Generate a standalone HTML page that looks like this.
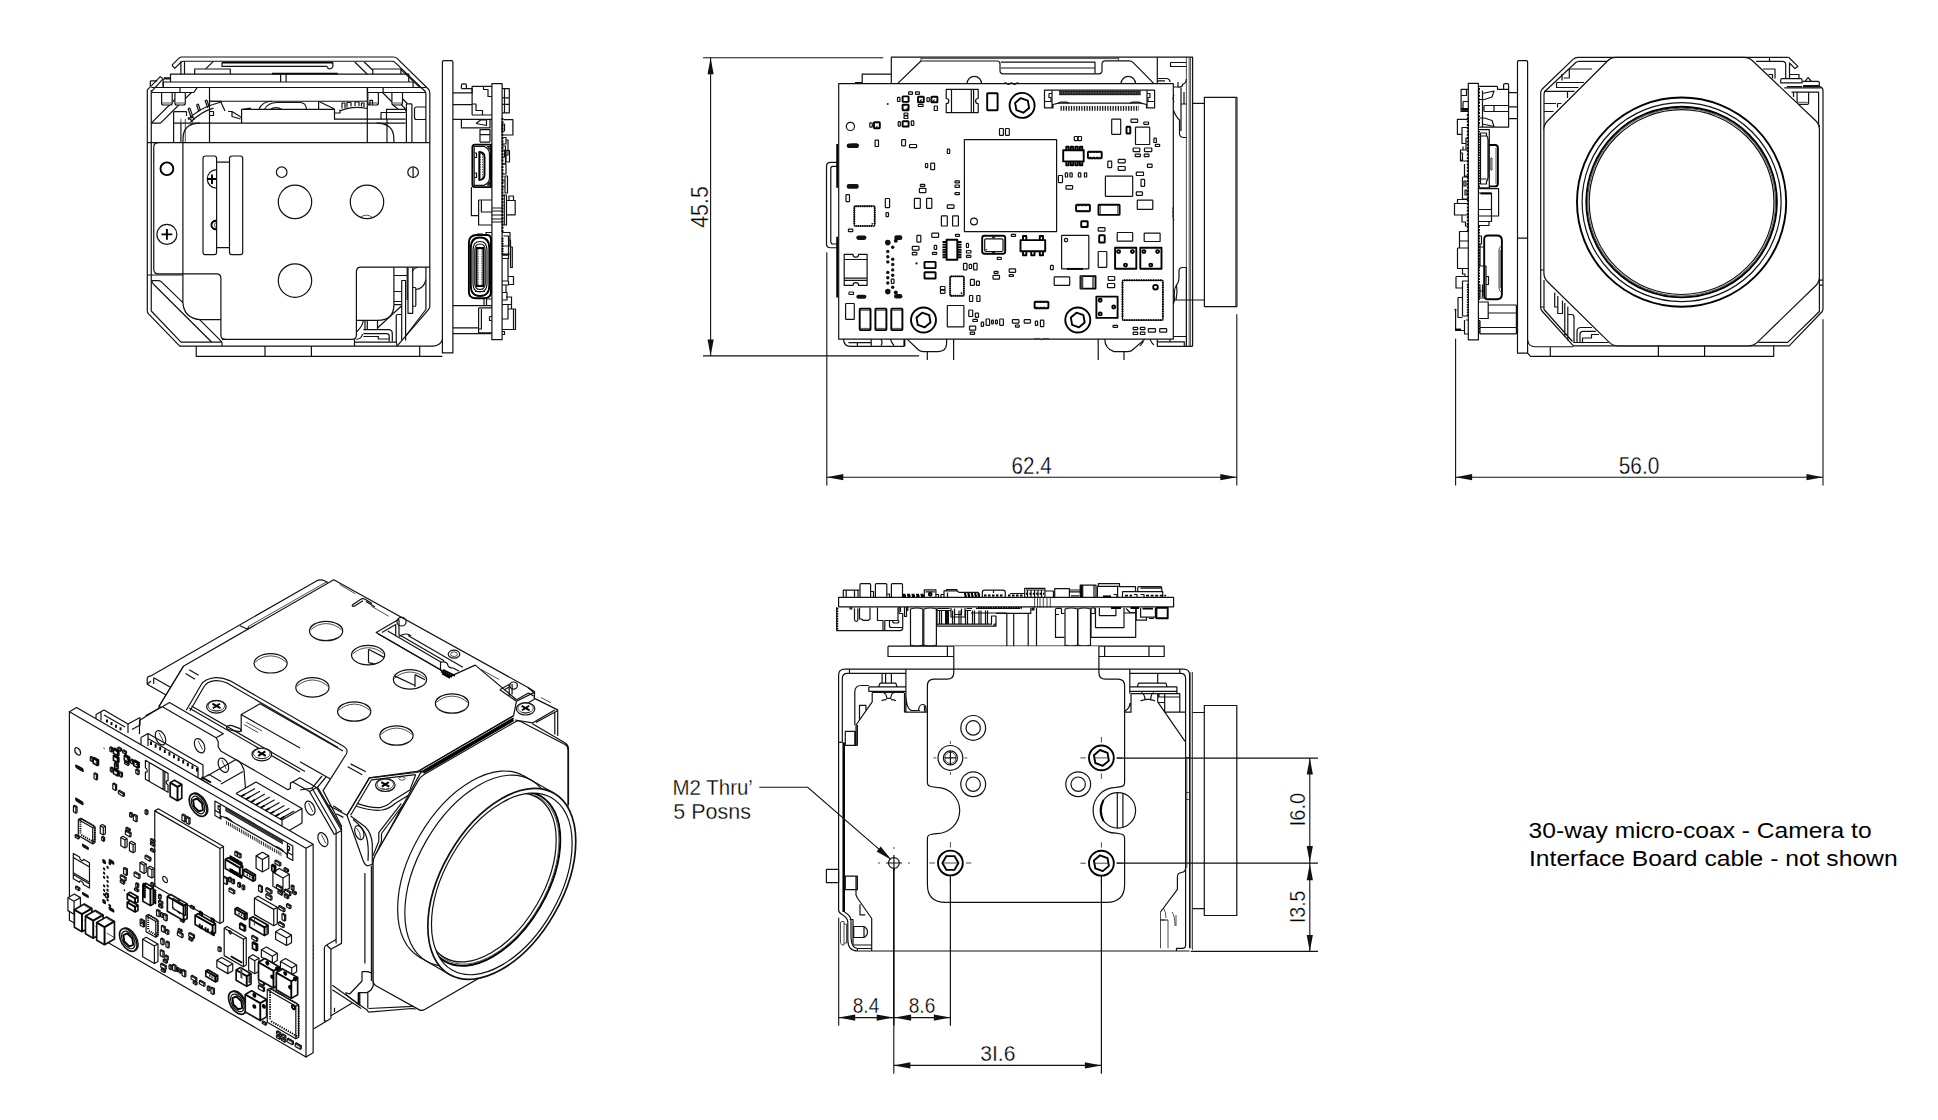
<!DOCTYPE html>
<html><head><meta charset="utf-8"><title>Drawing</title>
<style>
html,body{margin:0;padding:0;background:#fff;}
body{width:1938px;height:1120px;overflow:hidden;font-family:"Liberation Sans",sans-serif;}
svg{display:block;position:absolute;left:0;top:0}
.l,.t,.k,.w,.wt,.wk,.d{vector-effect:non-scaling-stroke}
.l{fill:none;stroke:#111;stroke-width:1.2;stroke-linejoin:round;stroke-linecap:butt}
.t{fill:none;stroke:#222;stroke-width:.8}
.k{fill:none;stroke:#000;stroke-width:1.9;stroke-linejoin:round}
.w{fill:#fff;stroke:#111;stroke-width:1.2;stroke-linejoin:round}
.wt{fill:#fff;stroke:#333;stroke-width:.7}
.wk{fill:#fff;stroke:#111;stroke-width:1.7;stroke-linejoin:round}
.f{fill:#111;stroke:none}
.d{fill:none;stroke:#111;stroke-width:1.1}
text{font-family:"Liberation Sans",sans-serif;fill:#000}
</style></head><body>
<svg width="1938" height="1120" viewBox="0 0 1938 1120">
<rect x="0" y="0" width="1938" height="1120" fill="#fff"/>
<!-- 10_v1.svg -->
<g id="v1">
<!-- top cover -->
<path class="l" d="M172 65.2 L179 58.2 Q180.4 57 182 57 L393.5 57 Q395.8 57 397.3 58.6 L428.3 89 Q429.8 90.6 429.8 93 L429.8 306 Q429.8 308.3 428.3 309.8 L397 346.1 L179.8 346.1 L148.5 313.8 Q147.3 312.5 147.3 310.5 L147.3 89.8"/>
<path class="l" d="M172 65.2 L174.7 68.4 L181 62.2 Q182 61.25 183.5 61.25 L392 61.25 Q393.9 61.25 395 62.4 L424.8 91 Q425.9 92.2 425.9 94 L425.9 142.7"/>
<!-- left hook -->
<path class="l" d="M147.3 89.8 L160.3 76.6 L163 78.9 L151.7 91.4"/>
<path class="l" d="M150.3 80.9 H157.3 M150.3 80.9 V86 M163.1 78.9 V87.5"/>
<path class="l" d="M151.25 90 V311 M151.25 87.5 H425.9"/>
<!-- top inside -->
<path class="l" d="M180.9 61.25 V74.2 M184.5 61.25 V74.2"/>
<path class="k" d="M222 62.6 H333"/>
<path class="l" d="M222 62.6 V66.4 H327 M329.8 68.8 A3.1 3.1 0 0 0 332.9 65.6 V62.6"/>
<path class="l" d="M327 66.4 A3 3 0 0 0 329.8 68.8"/>
<path class="l" d="M205.6 68.9 L213.4 61.4 M213.4 61.4"/>
<path class="l" d="M194.7 74.2 V69 H230.3 V74.2"/>
<path class="l" d="M354.8 62 L367.3 74.2 M364.2 62 L372.8 70.3"/>
<path class="l" d="M372.8 74.2 V69 H400.9 V74.2"/>
<path class="k" d="M272 73.6 H337.7"/>
<path class="l" d="M170.5 82 V74.2 H408.75 V82 M280.6 74.2 V82 M286.1 74.2 V82"/>
<path class="l" d="M163.4 87.5 V82 H413.1 V87.5"/>
<!-- block below -->
<path class="l" d="M209.5 87.5 V142.7 M367.3 87.5 V142.7 M209.5 101.25 H367.3"/>
<!-- standoffs -->
<!-- left diagonal brace -->
<path class="l" d="M151.25 123.1 L182 92.5 M151.25 123.1 H160.5 L191.5 92.5"/>
<path class="l" d="M382.5 92.5 L392 102 M402.5 98.75 L407.5 103.75 M393 105 L398 109 M401.5 105 Q405 107.5 406.3 111.5"/>
<path class="l" d="M151.25 92.5 H193.75 L197 87.8 M180 88 V92.5 M367.5 87.5 V92.5 H425.6 M383.1 87.8 V92.5"/>
<path class="w" d="M161.6 92.5 H172.2 V103 Q172.2 105 170.2 105 H163.6 Q161.6 105 161.6 103 Z M174.9 92.5 H185.3 V103 Q185.3 105 183.3 105 H176.9 Q174.9 105 174.9 103 Z"/>
<path class="t" d="M162.3 103 H171.6 M175.5 103 H184.7"/>
<path class="w" d="M367.8 92.5 H378.4 V103 Q378.4 105 376.4 105 H369.8 Q367.8 105 367.8 103 Z M391.9 92.5 H402.5 V103 Q402.5 105 400.5 105 H393.9 Q391.9 105 391.9 103 Z"/>
<path class="t" d="M368.4 103 H377.8 M392.5 103 H401.9"/>
<path class="l" d="M369.9 105 V100.3 H372.5 V105"/>
<path class="l" d="M400.6 69.4 L420.6 88.1"/>
<path class="l" d="M163.75 77.8 H170.3 M163.75 79 H170.3"/>
<!-- lens top line -->
<path class="l" d="M173.6 123.1 H405.6 M173.6 111.7 V142.7 M175.5 111.7 H186.5 V116 M173.6 111.7 H175.5"/>
<path class="t" d="M180.9 118.75 V142.7 M185.3 118.75 V142.7"/>
<path class="l" d="M183 142.7 V139 Q183 123.1 200 123.1 M393.9 142.7 V139 Q393.9 123.1 376.5 123.1"/>
<!-- middle clutter -->
<path class="l" d="M241.6 123.1 V109.4 H334.5 V119.2 H405.6 M241.6 109.4 L251 108 M334.5 109.4 H312 M318.6 101.25 L334.5 109"/>
<path class="l" d="M259 109.4 Q262 101.25 272 101.25 M264.5 109.4 Q268 102.5 277 102.5 H300 Q306 102.5 306.5 109.4 M318.6 101.25 V109.4"/>
<path class="l" d="M270 109.4 Q276 106 282 109.4"/>
<path class="l" d="M209.5 101.25 L220.5 101.25 L225 111 M228 111.5 H232 V116.5 L240.5 119 M232 111.5 L241.6 117.5"/>
<!-- ribbon/flex left -->
<path class="l" d="M188 119.5 Q200 108 213 104.5 M190.5 122 Q202 111.5 213.5 108.2 M213 104.5 L222 101.8 M209.5 111.5 H213.5 V115.5 H209.5"/>
<path class="l" d="M188 108.5 L191.5 118.5 M189.8 108 L193.2 117.6 M188 108.5 L189.8 108 M196.5 104.5 L198.8 111.5 M198.3 104 L200.4 110.5 M196.5 104.5 L198.3 104 M205 100.5 L207.8 108 M206.8 100 L209.2 106.8 M205 100.5 L206.8 100"/>
<path class="l" d="M187.8 117.5 L193 121.5 M190 115.5 L195 119.3"/>
<!-- right clutter -->
<path class="l" d="M334.5 113 H340 V109.4 M340 111 Q352 105.5 367.3 108.5 M342 108.5 V103 H345 V108 M347 107.5 V102.5 H351 V106.5 M355 106 V102 H359 V106 M361.5 106.5 V103 H364 V107"/>
<path class="l" d="M381 119.2 V112.5 H386.5 V109.4 H405.6 M386.5 112.5 V119.2 M386.5 112.5 H405.6"/>
<path class="l" d="M406.4 103.9 H411.9 M406.4 103.9 V142.7 M411.9 103.9 V142.7"/>
<path class="l" d="M425.9 107 H416.5 Q414.5 107 414.5 109 V117.5 Q414.5 119.5 416.5 119.5 H425.9"/>
<path class="l" d="M387 119.2 V142.7"/>
<!-- bracket plate top line -->
<path class="l" d="M147.3 142.7 H429.8"/>
<!-- plate outline -->
<path class="l" d="M158.5 142.7 Q153.75 142.7 153.75 147.5 V269 Q153.75 273.9 158.5 273.9 H216.5 Q220.9 273.9 220.9 278.3 V335 Q220.9 339.4 225.3 339.4 H352 Q356.4 339.4 356.4 335 V271.8 Q356.4 267.2 361 267.2 H429.8"/>
<path class="l" d="M182.9 142.7 V302.6 Q184 318 199.6 319.6 H220.9"/>
<path class="t" d="M180.9 123.1 V142.7"/>
<!-- circles -->
<circle class="k" cx="166.9" cy="168.75" r="6.4"/>
<circle class="l" cx="281.7" cy="172.2" r="5.3"/>
<circle class="l" cx="413.1" cy="172.2" r="5.3"/>
<path class="l" d="M413.1 167 V177.4"/>
<circle class="l" cx="295" cy="201.9" r="16.7"/>
<circle class="l" cx="367" cy="201.9" r="16.7"/>
<path class="t" d="M360.5 217.2 Q366.5 213 372.5 217.4"/>
<circle class="l" cx="295" cy="280.6" r="16.7"/>
<!-- slots -->
<path class="l" d="M203 158.5 Q203 156 205.5 156 H214.1 Q216.6 156 216.6 158.5 V252.2 Q216.6 254.7 214.1 254.7 H205.5 Q203 254.7 203 252.2 Z"/>
<path class="l" d="M229.5 158.5 Q229.5 156 232 156 H240.2 Q242.7 156 242.7 158.5 V252.2 Q242.7 254.7 240.2 254.7 H232 Q229.5 254.7 229.5 252.2 Z"/>
<path class="l" d="M216.6 162.2 H229.5 M216.6 247.7 H229.5"/>
<path class="l" d="M216.6 169.6 A9.3 9.3 0 1 0 216.6 188.2"/>
<path class="k" d="M207.6 179 H216 M212 174.5 V184"/>
<path class="k" d="M216.6 220.8 A4.3 4.3 0 1 0 216.6 229.2"/>
<path class="t" d="M216.6 222 A3.2 3.2 0 0 0 216.6 228"/>
<!-- plus screw -->
<circle class="l" cx="166.9" cy="234.4" r="10"/>
<path class="k" d="M161.5 234.4 H172.3 M166.9 229 V239.8"/>
<!-- bottom-left chamfer zone -->
<path class="l" d="M147.3 275 H182.7 M151.25 311 L181 342.2 H222 M151.4 280.6 H158 Q160 280.6 161.2 281.6 L182.9 302.6 M199.6 319.6 L221.6 341.6 M151.4 280.6 Q152.5 283.5 155 285.8 L211.8 342.2"/>
<path class="l" d="M222 342.2 V346.1 M222 339.4 L225.3 339.4"/>
<!-- base plate -->
<path class="l" d="M196.25 346.1 V356.4 H442.4 M265 346.1 V356.4 M311.4 346.1 V356.4 M419.7 346.1 V356.4 M397 346.1 H433.5 Q440 345.5 442.4 340"/>
<!-- right bottom clutter -->
<path class="l" d="M393.9 267.2 V304.7 M407.2 267.2 V300 M393.9 275.5 H407.2 M393.9 291.5 H401.7 M393.9 301.5 H401.7 M393.9 304.7 H401.7"/>
<path class="l" d="M401.7 340.6 V280.5 H405.6 V340.6"/>
<path class="l" d="M408 267.2 V313.3 H412.7 V267.2"/>
<path class="l" d="M412.7 287.5 H415 Q415.8 287.5 415.8 288.5 V305.3 Q415.8 306.25 415 306.25 H412.7"/>
<path class="l" d="M425.9 279.7 Q424 289 415.8 289.5 M412.7 271 Q414 267.5 418 267.5"/>
<path class="l" d="M425.9 267.2 V309.5 L405.6 336"/>
<path class="l" d="M393.9 304.7 Q393.9 320.3 377.5 320.3 H356.4"/>
<path class="l" d="M377.5 328 L401.7 305.8"/>
<path class="l" d="M365 320.3 V329.7 M367.3 320.3 V329.7 M377.5 320.3 V329.7"/>
<path class="l" d="M363.4 329.7 H388.4 Q392.3 329.7 392.3 333.6 V341.4 M363.4 333.6 H386.5 Q389.2 333.6 389.2 336.3 V341.4 M378.3 335.9 V339 H389.2 M363.4 336.5 H378"/>
<path class="l" d="M356.4 332 Q363 326 363.4 320.3 M354.5 342.2 H396.5 M354.5 339 V346.1 M396.25 315.6 V341.5 L397 346.1 M396.25 315.6 Q396.25 314.5 397.5 314.5 H401.7"/>
<path class="l" d="M356.4 339.4 Q361.5 339 362.5 334"/>
</g>

<!-- 11_v1r.svg -->
<g id="v1r">
<!-- vertical plate -->
<path class="l" d="M442.4 352.9 V62 Q442.4 60.7 443.7 60.7 H451.6 Q452.9 60.7 452.9 62 V352.9 Z"/>
<!-- PCB -->
<path class="l" d="M491.9 83.6 H502.1 V339.7 H491.9 Z"/>
<!-- top standoff + connector -->
<path class="l" d="M452.9 92.9 H472.1 M452.9 104.6 H472.1 M452.9 119.3 H491.9 M461.4 88.6 V85.2 Q461.4 83.9 462.7 83.9 H465.1 Q466.4 83.9 466.4 85.2 V88.6 M461.4 88.6 H472.1 V92.9"/>
<path class="l" d="M472.1 115 V86.4 H491.9 M472.1 115 H491.9"/>
<path class="l" d="M483.5 86.4 V89.5 H488 V96.5 H491.9 M472.1 104 H476 V110.5 H482.5 V115"/>
<path class="l" d="M461.4 119.3 V127.9 H490 V119.3 M476 123.5 L481 119.8 H486.5 V125.5 L476 123.5"/>
<path class="l" d="M480 142.1 V129.6 H490 V142.1 M480 134.6 H490 M480 142.1 H490"/>
<!-- hdmi -->
<path class="k" d="M475 144.6 H491 V187.1 H475 Q472.4 187.1 472.4 184.5 V147.2 Q472.4 144.6 475 144.6 Z"/>
<path class="l" d="M474.2 147 Q474.2 146.3 475 146.3 H484 Q489.5 149 489.5 154 V178 Q489.5 183 484 185.4 H475 Q474.2 185.4 474.2 184.7 Z"/>
<path class="l" d="M487.5 146.5 L490 146.5 L490 150 Z M487.5 185.2 L490 185.2 L490 181.8 Z"/>
<path class="l" d="M474.2 153 H476.5 V157.5 H474.2 M474.2 173 H476.5 V177.5 H474.2"/>
<path class="k" d="M479.3 152 Q484.5 152.5 484.5 157 V175 Q484.5 179.5 479.3 180 Z"/>
<path class="t" d="M480.2 154 V178 M482.5 154 V178" stroke-dasharray="1.3 1.2"/>
<!-- below hdmi -->
<path class="l" d="M471.4 187.1 V215.7 H478.6 M478.6 200 V225 H491.9 M478.6 200 H491.9 M481.4 200 V212 H491.9"/>
<path class="l" d="M491.9 208 H502.1 M491.9 211 H502.1 M491.9 215 H502.1 M491.9 219 H502.1 M491.9 222 H502.1"/>
<!-- usb-c like -->
<path class="k" d="M477 235 H487 Q491 235 491 240 V292 Q491 298.3 484 298.3 H476 Q468.9 298.3 468.9 292 V243 Q468.9 235 477 235 Z"/>
<path class="k" d="M470.8 248 Q470.8 237.5 480 237.5 Q489.3 237.5 489.3 248 V285.5 Q489.3 296 480 296 Q470.8 296 470.8 285.5 Z"/>
<path class="l" d="M473 250 Q473 241.5 480 241.5 Q487 241.5 487 250 V283.5 Q487 292 480 292 Q473 292 473 283.5 Z"/>
<path class="l" d="M474.8 250.5 Q474.8 244 480 244 Q485.2 244 485.2 250.5 V283 Q485.2 289.5 480 289.5 Q474.8 289.5 474.8 283 Z"/>
<path class="k" d="M476.6 248 H483.4 V286 H476.6 Z"/>
<path class="t" d="M478.3 249 V285 M481.7 249 V285" stroke-dasharray="1.2 1.1"/>
<path class="l" d="M475 291.5 H485 M477 234.2 H483"/>
<path class="l" d="M486 235 V232.5 H491.9 M484 298.3 V305 M486.5 298.3 V305 M486.5 299 H491.9"/>
<!-- lower standoff + connector -->
<path class="l" d="M452.9 305.7 H491.9 M452.9 327.9 H478.6 M452.9 333.6 H491 M478.6 307.9 V332.9 H491.9 M478.6 307.9 H491.9 M481.4 309 V329 H478.6 M489.5 316.5 H491.9 M489.5 316.5 V320.5 H491.9"/>
<!-- right side of PCB components -->
<path class="l" d="M502.1 88.6 H509.3 V112.9 H502.1 M502.1 97.9 H509.3 M502.1 104.3 H509.3 M504.5 88.6 V112.9"/>
<path class="l" d="M503.6 119.6 H512.9 V135 H503.6 M502.1 124 V131 H504.5 V124 Z"/>
<path class="l" d="M502.1 137.5 H506 V144 H502.1 M506 140 H508 V155 H506 M502.1 146 H505.5 V164 H502.1 M502.1 150 H504.5 V157 H502.1"/>
<path class="l" d="M506 150.5 H509.5 V162 H506 Z M502.1 164 H506 V174 H502.1 M502.1 181 H505 V187 H502.1 M505 176 H507.5 V193 H505 Z"/>
<path class="l" d="M502.1 195 H506.5 V225 H502.1 M504.3 195 V225 M506.5 200.5 H515.2 V214.8 H506.5 M509 200.5 V196 H513.5 V200.5"/>
<path class="k" d="M502.5 118 V232" stroke-dasharray="2 1.2"/>
<path class="l" d="M502.1 232.5 H510 V246 H502.1 M503.5 236 H508.5 V255 H503.5 M508.5 240 H510.5 V254 H502.1 M510.5 247 H512.3 V267.5 H510.5 Z"/>
<path class="k" d="M502.6 238 V256" stroke-dasharray="1.5 1"/>
<path class="l" d="M502.1 255 H508.5 V258.5 H502.1 M502.1 258.5 H508 V281 H502.1 M502.1 281 H508.5 V285 H502.1 M508.5 276.5 H513.5 V284.5 H508.5 M506 285 V292.5 M502.1 292.5 H507 V300 H502.1"/>
<path class="l" d="M506 297 H511.5 V304.5 H506 M502.1 304.5 H508 V319 H502.1 M508 309 H515.5 V329.5 H502.1 M511.5 304.5 V309 M513.5 309 V329.5"/>
<path class="l" d="M502.1 331.5 H504.5 V334.5 H502.1"/>
</g>

<!-- 20_v2.svg -->
<g id="v2">
<path class="l" d="M891.3 83.6 V57.2 H1192.6 V346.3"/>
<path class="l" d="M862.2 83.6 V74.2 H891.3 M855 82.6 H862.2"/>
<path class="l" d="M897.5 83.6 L921 61 H997 Q1000 61 1000 64 V70.5 Q1000 73.8 1003.5 73.8 H1098.5 Q1102 73.8 1102 70.5 V64 Q1102 60.8 1105.4 60.8 H1129 Q1131.5 60.8 1133 62.3 L1153.9 83.6"/>
<path class="t" d="M921 58.6 H1118.6 M1118.6 57.2 V60.8 M921 61 V57.2"/>
<path class="l" d="M1000.8 68 H1095 V62.2 H1000.8 M1095 62.2 V73.8"/>
<path class="l" d="M967.1 83.6 A7.2 7.2 0 0 1 981.5 83.6 M1121.1 83.6 A7.2 7.2 0 0 1 1135.5 83.6"/>
<path class="l" d="M1004 83.6 q1.5 -1.5 3 0 q1.5 1.5 3 0 q1.5 -1.5 3 0 q1.5 1.5 3 0 q1.5 -1.5 3 0"/>
<path class="l" d="M1157.3 57.2 V83.6 M1157.3 78.5 H1166 Q1170 78.5 1170 82 M1157.3 80.8 H1165 M1170.5 62.5 H1186.4 M1170.5 62.5 V66.5 H1186.4"/>
<path class="t" d="M1186.4 57.2 V346.3 M1189.2 57.2 V346.3 M1190.6 57.2 V346.3"/>
<path class="l" d="M1173.3 87 H1178 V82 M1178 87 Q1182 88 1183 84 Q1186 83.5 1186.4 79 M1181 88 V104 M1184 92 V104 M1181 104 H1186.4"/>
<path class="l" d="M1173.3 110 Q1176 117 1179.5 120 V134 Q1180 137.5 1184 137.5 H1186.4 M1181 104 V131"/>
<path class="l" d="M1204.4 97.3 H1236.9 V306.6 H1204.4 Z M1192.6 103.3 H1204.4 M1192.6 300 H1204.4"/>
<path class="t" d="M1235.7 97.3 V306.6"/>
<path class="l" d="M1186.4 267.5 H1182.5 Q1179 267.5 1179 271 V278 Q1179 282.5 1176.5 285 Q1173.5 289 1174.5 300 L1173.3 304 M1174 300 H1192.6 M1176.5 285 Q1177.8 292 1176 300 M1186.4 267.5 V346.3"/>
<path class="t" d="M1173.3 94 q1.5 1.5 0 3 q-1.5 1.5 0 3 q1.5 1.5 0 3 M1173.3 207 q-1.5 1.5 0 3 q-1.5 2 0 4 q-1.5 2 0 4 q1.2 1.5 0 3"/>
<path class="l" d="M843.5 339.1 Q844 346.3 850 346.3 H904.4 M848.4 342.6 H871.2 M857.4 342.6 V346.3 M871.2 339.1 V346.3 M881 339.1 Q883 343 881 345.5 M890.5 339.1 Q891.5 343 894 345.5"/>
<path class="k" d="M904.4 339.1 V346.3"/>
<path class="l" d="M907.2 339.1 L918.5 350 Q920.5 351.6 923 351.6 H938 Q946.6 351.6 946.6 343 V339.1 M953.6 339.1 V360 M927.3 351.6 V360"/>
<path class="l" d="M1098.2 339.1 V360 M1104.7 339.1 Q1105 349 1114 351.6 H1128 Q1131 351.6 1133 349.5 L1144.9 339.1 M1124 351.6 V360 M1140 346 L1143.5 341.5"/>
<path class="l" d="M1150 339.1 Q1151.5 343.5 1154 345 M1157.3 341.9 H1184.3 V346.3 H1157.3 Z M1157.3 339.1 V346.3 M1170 341.9 V339.1 M1173.3 336.5 H1186.4 M1157.3 346.3 H1192.6"/>
<path class="t" d="M1034 339.1 q1.5 -1.5 3 0 q1.5 -1.5 3 0 q1.5 1.5 3 0 q1.5 -1.5 3 0 q1.5 -1.5 3 0"/>
<path class="l" d="M837.7 162.4 H830.5 Q826.5 162.4 826.5 166.4 V243.7 Q826.5 247.75 830.5 247.75 H837.7 M837.7 166.3 H833 Q830.8 166.3 830.8 168.5 V241.8 Q830.8 244 833 244 H837.7"/>
<path class="k" d="M837.2 144.1 V187.7 M837.2 236.7 V297.6"/>
<path class="l" d="M838.7 83.6 H1173.3 V339.1 H838.7 Z"/>
<rect class="l" x="964.4" y="139.7" width="92.2" height="91.9" rx="0"/>
<circle class="l" cx="974.0" cy="221.5" r="3.4"/>
<circle class="k" cx="1022.1" cy="105.4" r="12.5"/>
<path class="k" d="M1029.1 107.9 L1023.4 112.7 L1016.4 110.2 L1015.1 102.9 L1020.8 98.1 L1027.8 100.6 Z"/>
<circle class="k" cx="923.5" cy="320.0" r="12.5"/>
<path class="k" d="M930.5 322.5 L924.8 327.3 L917.8 324.8 L916.5 317.5 L922.2 312.7 L929.2 315.2 Z"/>
<circle class="k" cx="1077.8" cy="320.0" r="12.5"/>
<path class="k" d="M1084.7 322.5 L1079.0 327.3 L1072.1 324.8 L1070.8 317.5 L1076.5 312.7 L1083.4 315.2 Z"/>
<rect class="l" x="908.6" y="91.9" width="3.9" height="2.4" rx="0.6"/>
<rect class="l" x="915.5" y="91.9" width="3.9" height="2.4" rx="0.6"/>
<rect class="l" x="897.5" y="97.3" width="2.4" height="4.2" rx="0.6"/>
<rect class="l" x="927.0" y="97.5" width="2.3" height="4.1" rx="0.6"/>
<rect class="l" x="918.3" y="104.4" width="4.8" height="2.1" rx="0.6"/>
<rect class="l" x="934.2" y="106.0" width="3.2" height="4.5" rx="0.6"/>
<rect class="l" x="898.2" y="121.6" width="2.1" height="4.5" rx="0.6"/>
<rect class="l" x="911.3" y="120.9" width="2.5" height="4.5" rx="0.6"/>
<rect class="l" x="869.8" y="122.9" width="2.5" height="4.2" rx="0.6"/>
<rect class="l" x="904.0" y="113.0" width="3.9" height="2.4" rx="0.6"/>
<rect class="l" x="904.0" y="116.0" width="3.9" height="2.5" rx="0.6"/>
<rect class="k" x="902.6" y="96.4" width="6.0" height="5.5" rx="0.6"/>
<rect class="k" x="918.0" y="96.8" width="5.8" height="5.5" rx="0.6"/>
<rect class="k" x="931.4" y="96.8" width="6.0" height="5.5" rx="0.6"/>
<rect class="k" x="902.6" y="104.7" width="6.0" height="5.5" rx="0.6"/>
<rect class="k" x="902.6" y="121.3" width="6.0" height="5.2" rx="0.6"/>
<rect class="k" x="874.0" y="122.2" width="5.8" height="6.0" rx="0.6"/>
<path class="f" d="M919 101.5 h2.5 v-3 z M932 101.5 h2.5 v-2.5 z M905.5 109.5 h2.5 v-2.5 z M875 127.5 h2.5 v-2 z"/>
<circle class="f" cx="887.8" cy="104.0" r="0.9"/>
<circle class="l" cx="850.4" cy="126.4" r="4.1"/>
<path class="l" d="M946.2 89.4 H978.2 V98.5 A2.6 2.6 0 0 0 978.2 103.7 V112.6 H946.2 V103.7 A2.6 2.6 0 0 0 946.2 98.5 Z M951.5 89.4 V112.6 M971.3 89.4 V112.6 M973.6 89.4 V112.6"/>
<rect class="k" x="987.2" y="93.2" width="10.4" height="17.0" rx="0.6"/>
<rect class="f" x="846.7" y="143.4" width="12.1" height="4.6" rx="2.2"/>
<rect class="f" x="846.7" y="184" width="12.1" height="4.8" rx="2.2"/>
<rect class="f" x="856.3" y="235.6" width="10.1" height="4.3" rx="2.2"/>
<rect class="f" x="856.3" y="294.8" width="10.1" height="3.9" rx="2.2"/>
<rect class="f" x="850" y="143.4" width="8.8" height="4.6" rx="2.2"/>
<rect class="l" x="875.1" y="140.2" width="3.4" height="6.3" rx="0.6"/>
<rect class="l" x="901.7" y="139.6" width="3.8" height="6.3" rx="0.6"/>
<rect class="l" x="909.5" y="144.5" width="7.1" height="3.1" rx="0.6"/>
<rect class="l" x="947.3" y="149.2" width="2.4" height="4.3" rx="0.6"/>
<rect class="l" x="999.5" y="128.5" width="3.9" height="6.9" rx="0.6"/>
<rect class="l" x="1005.5" y="128.5" width="3.8" height="6.9" rx="0.6"/>
<rect class="l" x="925.5" y="163.5" width="2.2" height="4.1" rx="0.6"/>
<rect class="l" x="930.7" y="163.2" width="3.9" height="6.5" rx="0.6"/>
<rect class="l" x="920.3" y="184.3" width="4.5" height="2.0" rx="0.6"/>
<rect class="l" x="919.4" y="188.4" width="6.5" height="4.2" rx="0.6"/>
<rect class="l" x="955.0" y="180.8" width="4.5" height="2.1" rx="0.6"/>
<rect class="l" x="955.0" y="185.0" width="4.5" height="2.3" rx="0.6"/>
<rect class="l" x="955.0" y="192.6" width="4.5" height="2.0" rx="0.6"/>
<rect class="l" x="846.0" y="194.6" width="3.5" height="7.0" rx="0.6"/>
<rect class="l" x="885.3" y="198.5" width="4.3" height="9.1" rx="0.6"/>
<rect class="l" x="886.0" y="212.7" width="2.5" height="3.9" rx="0.6"/>
<rect class="l" x="914.4" y="198.4" width="5.9" height="9.9" rx="0.6"/>
<rect class="l" x="926.6" y="198.4" width="5.2" height="9.9" rx="0.6"/>
<rect class="l" x="947.3" y="204.8" width="6.7" height="3.5" rx="0.6"/>
<rect class="l" x="941.4" y="215.9" width="5.9" height="10.1" rx="0.6"/>
<rect class="l" x="952.6" y="215.9" width="5.8" height="10.1" rx="0.6"/>
<rect class="l" x="848.4" y="229.1" width="4.4" height="2.5" rx="0.6"/>
<rect class="l" x="849.0" y="292.0" width="4.5" height="2.5" rx="0.6"/>
<rect class="l" x="916.9" y="235.3" width="3.9" height="6.9" rx="0.6"/>
<rect class="l" x="931.8" y="233.2" width="6.8" height="4.2" rx="0.6"/>
<rect class="l" x="955.4" y="234.3" width="4.1" height="2.1" rx="0.6"/>
<rect class="l" x="912.3" y="246.4" width="6.7" height="3.7" rx="0.6"/>
<rect class="l" x="912.3" y="252.3" width="4.6" height="2.6" rx="0.6"/>
<rect class="l" x="934.2" y="245.3" width="2.5" height="4.1" rx="0.6"/>
<rect class="l" x="932.4" y="252.3" width="4.3" height="2.1" rx="0.6"/>
<rect class="l" x="966.4" y="243.3" width="2.1" height="4.2" rx="0.6"/>
<rect class="l" x="966.4" y="250.5" width="4.5" height="2.5" rx="0.6"/>
<rect class="l" x="966.4" y="255.4" width="4.5" height="2.0" rx="0.6"/>
<rect class="l" x="1011.3" y="234.3" width="4.3" height="2.1" rx="0.6"/>
<rect class="l" x="997.2" y="257.4" width="4.1" height="2.1" rx="0.6"/>
<rect class="l" x="963.5" y="263.4" width="3.5" height="6.5" rx="0.6"/>
<rect class="l" x="969.2" y="264.4" width="2.4" height="4.1" rx="0.6"/>
<rect class="l" x="973.6" y="263.4" width="3.5" height="6.5" rx="0.6"/>
<rect class="l" x="994.1" y="271.3" width="4.0" height="2.1" rx="0.6"/>
<rect class="l" x="993.0" y="275.4" width="6.5" height="3.8" rx="0.6"/>
<rect class="l" x="1009.2" y="268.8" width="6.4" height="3.6" rx="0.6"/>
<rect class="l" x="1009.2" y="274.7" width="4.2" height="1.8" rx="0.6"/>
<rect class="l" x="940.4" y="286.5" width="4.6" height="3.2" rx="0.6"/>
<rect class="l" x="940.4" y="290.2" width="4.6" height="3.2" rx="0.6"/>
<rect class="l" x="970.4" y="279.3" width="3.9" height="6.1" rx="0.6"/>
<rect class="l" x="976.4" y="281.2" width="3.0" height="4.2" rx="0.6"/>
<rect class="l" x="969.5" y="295.5" width="3.2" height="6.0" rx="0.6"/>
<rect class="l" x="976.8" y="295.5" width="3.1" height="6.0" rx="0.6"/>
<rect class="l" x="845.6" y="303.5" width="8.7" height="15.8" rx="0.6"/>
<rect class="l" x="968.8" y="310.0" width="3.9" height="6.5" rx="0.6"/>
<rect class="l" x="975.3" y="313.2" width="3.2" height="4.2" rx="0.6"/>
<rect class="l" x="972.9" y="319.3" width="4.5" height="2.2" rx="0.6"/>
<rect class="l" x="969.5" y="326.2" width="6.2" height="3.9" rx="0.6"/>
<rect class="l" x="970.2" y="332.2" width="4.4" height="2.1" rx="0.6"/>
<rect class="l" x="981.2" y="322.1" width="2.4" height="4.3" rx="0.6"/>
<rect class="l" x="986.1" y="319.0" width="3.5" height="6.3" rx="0.6"/>
<rect class="l" x="991.6" y="320.1" width="1.8" height="3.8" rx="0.6"/>
<rect class="l" x="995.5" y="320.1" width="1.9" height="3.8" rx="0.6"/>
<rect class="l" x="999.7" y="319.0" width="3.7" height="6.3" rx="0.6"/>
<rect class="l" x="1012.4" y="319.7" width="6.5" height="3.5" rx="0.6"/>
<rect class="l" x="1015.4" y="325.0" width="3.9" height="2.1" rx="0.6"/>
<rect class="l" x="1024.2" y="319.7" width="6.3" height="3.5" rx="0.6"/>
<rect class="l" x="947.3" y="305.5" width="16.6" height="21.4" rx="0.6"/>
<rect class="l" x="1035.3" y="321.1" width="2.3" height="4.2" rx="0.6"/>
<rect class="l" x="1040.4" y="320.1" width="3.4" height="6.5" rx="0.6"/>
<rect class="l" x="854.3" y="206.2" width="20.4" height="19.8" rx="0"/>
<path class="k" d="M855.5 206.2 H873.5 M855.5 226 H873.5 M874.7 207.5 V225 M854.3 207.5 V225" stroke-dasharray="1.2 1"/>
<circle class="f" cx="872.3" cy="223.8" r="0.9"/>
<path class="l" d="M844.2 254.4 H853 A2.8 2.8 0 0 0 858.6 254.4 H867.1 V285.4 H858.6 A2.8 2.8 0 0 0 853 285.4 H844.2 Z M844.2 259.5 H867.1 M844.2 278.2 H867.1 M844.2 280.3 H867.1"/>
<circle class="f" cx="892.7" cy="247.3" r="1.7"/>
<circle class="f" cx="887.8" cy="251.5" r="1.7"/>
<circle class="f" cx="887.8" cy="256.7" r="1.7"/>
<circle class="f" cx="892.7" cy="259.2" r="1.7"/>
<circle class="f" cx="887.8" cy="261.9" r="1.7"/>
<circle class="f" cx="892.7" cy="264.5" r="1.7"/>
<circle class="f" cx="892.7" cy="269.9" r="1.7"/>
<circle class="f" cx="887.8" cy="272.4" r="1.7"/>
<circle class="f" cx="892.7" cy="275.2" r="1.7"/>
<circle class="f" cx="887.8" cy="277.8" r="1.7"/>
<circle class="f" cx="887.8" cy="283.0" r="1.7"/>
<circle class="f" cx="892.7" cy="287.2" r="1.7"/>
<circle class="f" cx="887.8" cy="242.6" r="2.8"/>
<circle class="f" cx="887.8" cy="291.6" r="2.8"/>
<rect class="f" x="894.2" y="235.3" width="8.2" height="4.8" rx="2.4"/>
<circle class="f" cx="895.8" cy="240.8" r="2"/>
<rect class="f" x="894" y="294" width="8.4" height="4.6" rx="2.3"/>
<circle class="f" cx="895.8" cy="292.6" r="2"/>
<rect class="l" x="891.3" y="279.2" width="2.7" height="4.1" rx="0.6"/>
<rect class="k" x="946.6" y="239.7" width="10.7" height="20.1" rx="0"/>
<path class="k" d="M942.5 242.0 H946.6 M957.3 242.0 H961.5"/>
<path class="k" d="M942.5 244.6 H946.6 M957.3 244.6 H961.5"/>
<path class="k" d="M942.5 247.1 H946.6 M957.3 247.1 H961.5"/>
<path class="k" d="M942.5 249.7 H946.6 M957.3 249.7 H961.5"/>
<path class="k" d="M942.5 252.2 H946.6 M957.3 252.2 H961.5"/>
<path class="k" d="M942.5 254.8 H946.6 M957.3 254.8 H961.5"/>
<path class="k" d="M942.5 257.3 H946.6 M957.3 257.3 H961.5"/>
<rect class="k" x="982.2" y="235.7" width="23.0" height="18.0" rx="2.2"/>
<rect class="l" x="984.7" y="238.8" width="18.3" height="12.7" rx="1.2"/>
<path class="l" d="M992 236.5 l1.5 1.3 l1.5 -1.3 M992 253 l1.5 -1.3 l1.5 1.3"/>
<circle class="f" cx="986.3" cy="249.8" r="0.8"/>
<circle class="f" cx="916.5" cy="263.4" r="1.1"/>
<rect class="k" x="924.5" y="261.9" width="11.1" height="6.2" rx="0.6"/>
<rect class="k" x="924.5" y="272.2" width="11.1" height="6.3" rx="0.6"/>
<rect class="l" x="950.1" y="276.4" width="13.8" height="19.4" rx="0"/>
<path class="k" d="M951 276.4 H963 M951 295.8 H963 M950.1 277.5 V295 M963.9 277.5 V295" stroke-dasharray="1.1 1"/>
<circle class="f" cx="961.5" cy="293.2" r="0.9"/>
<rect class="k" x="859.7" y="308.6" width="10.8" height="21.5" rx="0.8"/>
<path class="t" d="M859.7 310.3 H870.5 M859.7 328.4 H870.5"/>
<rect class="k" x="875.4" y="308.6" width="11.0" height="21.5" rx="0.8"/>
<path class="t" d="M875.4 310.3 H886.4 M875.4 328.4 H886.4"/>
<rect class="k" x="891.3" y="308.6" width="11.1" height="21.5" rx="0.8"/>
<path class="t" d="M891.3 310.3 H902.4 M891.3 328.4 H902.4"/>
<path class="l" d="M1044.5 90.1 H1154.6 V107.9 H1146.5 V104.5 L1141 103.2 H1058.5 L1053 104.5 V107.9 H1044.5 Z M1044.5 101.5 H1052 M1147 101.5 H1154.6 M1052 90.8 V107.9 M1147 90.8 V107.9"/>
<path class="l" d="M1052 93.5 H1049 V97.5 H1051 V101.5 M1147 93.5 H1150 V97.5 H1148 V101.5 M1058 103.8 Q1059 102.2 1061 102.2 H1066 Q1068 102.2 1069 103.5 M1130 103.5 Q1131 102.2 1133 102.2 H1138.5 Q1140.5 102.2 1141.5 103.8"/>
<rect x="1059" y="90.6" width="81.7" height="4.6" fill="#222"/>
<path d="M1059 92.9 H1140.7" stroke="#999" stroke-width="0.8" stroke-dasharray="1.4 1.2" fill="none"/>
<path d="M1060.5 108.4 H1139" stroke="#111" stroke-width="4.6" stroke-dasharray="1.25 1.35" fill="none"/>
<rect class="l" x="1111.7" y="119.2" width="9.0" height="15.2" rx="0.6"/>
<rect class="l" x="1131.0" y="119.2" width="6.7" height="3.2" rx="0.6"/>
<rect class="l" x="1143.8" y="122.0" width="4.8" height="2.3" rx="0.6"/>
<rect class="l" x="1135.5" y="127.2" width="14.2" height="17.3" rx="0.6"/>
<rect class="l" x="1153.9" y="138.2" width="2.5" height="4.3" rx="0.6"/>
<rect class="l" x="1155.3" y="144.4" width="4.4" height="2.1" rx="0.6"/>
<rect class="l" x="1133.1" y="148.0" width="6.7" height="3.7" rx="0.6"/>
<rect class="l" x="1144.5" y="148.0" width="7.3" height="3.7" rx="0.6"/>
<rect class="l" x="1135.2" y="154.2" width="5.2" height="2.4" rx="0.6"/>
<rect class="l" x="1144.2" y="154.2" width="4.8" height="2.4" rx="0.6"/>
<rect class="l" x="1147.4" y="164.2" width="4.7" height="3.2" rx="0.6"/>
<rect class="l" x="1074.3" y="136.5" width="3.3" height="4.2" rx="0.6"/>
<rect class="l" x="1078.2" y="136.5" width="3.3" height="4.2" rx="0.6"/>
<rect class="l" x="1107.8" y="161.1" width="3.9" height="6.5" rx="0.6"/>
<rect class="l" x="1118.2" y="159.3" width="7.0" height="3.5" rx="0.6"/>
<rect class="l" x="1118.2" y="166.5" width="7.0" height="3.9" rx="0.6"/>
<rect class="l" x="1065.3" y="172.8" width="2.3" height="4.2" rx="0.6"/>
<rect class="l" x="1069.9" y="172.8" width="2.3" height="4.2" rx="0.6"/>
<rect class="l" x="1078.4" y="172.8" width="2.4" height="4.2" rx="0.6"/>
<rect class="l" x="1084.4" y="172.8" width="2.3" height="4.2" rx="0.6"/>
<rect class="l" x="1058.4" y="175.5" width="4.1" height="7.1" rx="0.6"/>
<rect class="l" x="1066.0" y="185.6" width="6.6" height="3.5" rx="0.6"/>
<rect class="l" x="1105.4" y="176.2" width="27.3" height="20.1" rx="0.6"/>
<rect class="l" x="1136.3" y="172.2" width="7.2" height="3.3" rx="0.6"/>
<rect class="l" x="1141.0" y="179.4" width="3.6" height="6.9" rx="0.6"/>
<rect class="l" x="1136.3" y="191.9" width="6.2" height="3.4" rx="0.6"/>
<rect class="l" x="1137.3" y="200.2" width="15.5" height="9.2" rx="0.6"/>
<rect class="l" x="1098.2" y="227.7" width="6.8" height="3.4" rx="0.6"/>
<rect class="l" x="1117.2" y="232.5" width="15.5" height="8.7" rx="0.6"/>
<rect class="l" x="1144.2" y="233.2" width="15.9" height="8.3" rx="0.6"/>
<rect class="l" x="1098.2" y="251.5" width="8.6" height="15.9" rx="0.6"/>
<rect class="l" x="1050.5" y="265.3" width="2.8" height="4.3" rx="0.6"/>
<rect class="l" x="1054.2" y="276.8" width="15.5" height="8.6" rx="0.6"/>
<rect class="l" x="1108.2" y="276.5" width="6.5" height="3.8" rx="0.6"/>
<rect class="l" x="1107.5" y="283.5" width="7.2" height="4.1" rx="0.6"/>
<rect class="l" x="1113.0" y="325.3" width="4.6" height="2.0" rx="0.6"/>
<rect class="l" x="1133.1" y="327.3" width="4.6" height="2.4" rx="0.6"/>
<rect class="l" x="1140.3" y="327.3" width="4.6" height="2.4" rx="0.6"/>
<rect class="l" x="1133.1" y="332.2" width="4.6" height="2.3" rx="0.6"/>
<rect class="l" x="1140.3" y="332.2" width="4.6" height="2.3" rx="0.6"/>
<rect class="l" x="1148.3" y="328.7" width="7.2" height="3.5" rx="0.6"/>
<rect class="l" x="1159.7" y="328.7" width="7.0" height="3.5" rx="0.6"/>
<rect class="k" x="1126.5" y="126.8" width="3.8" height="6.7" rx="0.6"/>
<rect class="k" x="1063.2" y="150.3" width="20.5" height="11.1" rx="0"/>
<path class="k" d="M1066.3 150.3 V146.8 H1068.7 V150.3 M1066.3 161.4 V165.3 H1068.7 V161.4"/>
<path class="k" d="M1070.8 150.3 V146.8 H1073.2 V150.3 M1070.8 161.4 V165.3 H1073.2 V161.4"/>
<path class="k" d="M1075.4 150.3 V146.8 H1077.8000000000002 V150.3 M1075.4 161.4 V165.3 H1077.8000000000002 V161.4"/>
<path class="k" d="M1079.9 150.3 V146.8 H1082.3000000000002 V150.3 M1079.9 161.4 V165.3 H1082.3000000000002 V161.4"/>
<rect class="k" x="1087.9" y="151.7" width="13.8" height="6.5" rx="0.8"/>
<path d="M1089.4 152.0 H1100.2 M1089.4 157.89999999999998 H1100.2" stroke="#111" stroke-width="2.2" stroke-dasharray="2 1.4" fill="none"/>
<rect class="k" x="1076.1" y="204.8" width="13.8" height="6.5" rx="0.8"/>
<path d="M1077.6 205.10000000000002 H1088.4 M1077.6 211.0 H1088.4" stroke="#111" stroke-width="2.2" stroke-dasharray="2 1.4" fill="none"/>
<rect class="k" x="1034.6" y="301.7" width="13.8" height="6.5" rx="0.8"/>
<path d="M1036.1 302.0 H1046.9 M1036.1 307.9 H1046.9" stroke="#111" stroke-width="2.2" stroke-dasharray="2 1.4" fill="none"/>
<rect class="k" x="1098.5" y="204.8" width="21.1" height="10.1" rx="0.6"/>
<path class="t" d="M1100.3 204.8 V214.9 M1117.8 204.8 V214.9"/>
<rect class="k" x="1081.2" y="221.2" width="6.5" height="5.8" rx="0.6"/>
<path class="f" d="M1085.5 226.5 h1.8 v-1.8 z"/>
<rect class="k" x="1099.2" y="235.3" width="5.5" height="7.2" rx="0.6"/>
<rect class="l" x="1061.6" y="235.3" width="27.2" height="33.6" rx="0.5"/>
<circle class="l" cx="1066.0" cy="240.1" r="1.7"/>
<path class="k" d="M1067 268.9 H1083"/>
<rect class="k" x="1115.1" y="247.8" width="21.2" height="21.0" rx="0"/>
<circle class="k" cx="1118.6" cy="251.6" r="1.5"/>
<circle class="k" cx="1132.4" cy="251.6" r="1.5"/>
<circle class="k" cx="1125.5" cy="265.1" r="1.5"/>
<rect class="k" x="1140.3" y="247.8" width="21.2" height="21.0" rx="0"/>
<circle class="k" cx="1143.9" cy="251.6" r="1.5"/>
<circle class="k" cx="1157.6" cy="251.6" r="1.5"/>
<circle class="k" cx="1150.8" cy="265.1" r="1.5"/>
<rect class="k" x="1096.4" y="296.6" width="21.2" height="21.3" rx="0"/>
<circle class="k" cx="1100.2" cy="300.3" r="1.5"/>
<circle class="k" cx="1113.7" cy="307.0" r="1.5"/>
<circle class="k" cx="1100.2" cy="313.9" r="1.5"/>
<rect class="k" x="1020.5" y="240.1" width="24.7" height="11.1" rx="0"/>
<path class="k" d="M1039.8 240.1 V236 H1043 V240.1 M1023 240.1 V236 H1026.3 V240.1 M1023 251.2 V255.3 H1026.3 V251.2 M1031.2 251.2 V255.3 H1034.5 V251.2 M1039.8 251.2 V255.3 H1043 V251.2"/>
<rect class="k" x="1080.5" y="276.1" width="15.0" height="12.5" rx="0"/>
<rect x="1080.5" y="276.1" width="2.8" height="12.5" fill="#444"/>
<path class="l" d="M1093 276.1 V288.6"/>
<rect class="l" x="1122.5" y="280.3" width="40.4" height="39.8" rx="0"/>
<path class="k" d="M1124 280.3 H1161.5 M1124 320.1 H1161.5 M1122.5 282 V318.5 M1162.9 282 V318.5" stroke-dasharray="1.3 1.1"/>
<circle class="k" cx="1155.5" cy="287.2" r="2.3"/>
</g>
<!-- 30_v3.svg -->
<g id="v3">
<!-- housing outer -->
<path class="l" d="M1788.6 57.3 H1578 Q1575 57.3 1573 59.3 L1542 89.3 Q1540.7 90.7 1540.7 92.7 V307.5 Q1540.7 309.5 1542 311 L1573.4 345.8 H1789.2 L1821.8 312 Q1823 310.7 1823 308.7 V91 Q1823 86.6 1818.6 86.6 H1803"/>
<path class="l" d="M1608 61.4 H1579 Q1577 61.4 1575.5 62.8 L1545.3 91 Q1544 92.4 1544 94.4 V130"/>
<!-- top-left interior -->
<path class="l" d="M1569.3 69 H1592 M1569.3 69 V74 M1562 74 V80.5 M1563.5 78 H1569.3 V69 M1556.5 82.5 H1584 M1556.5 82.5 V87.5 H1578.5 M1544 91.4 H1574.5 M1567.5 91.4 V98 M1544 103.5 H1556 M1557.5 103.5 V107.5 M1557.5 103.5 H1561.5 M1544 111.5 H1553.5"/>
<!-- top-right interior -->
<path class="l" d="M1788.6 57.3 L1797.9 66.4 L1795 68.6 L1789.5 63 V78.6 M1785.7 78.6 V64.5 Q1785.7 61.4 1782.5 61.4 H1756 M1769.5 57.3 V61.4"/>
<path class="l" d="M1763 69 H1775 V78.5 M1772.5 78.5 V74.5 H1768.5"/>
<path class="l" d="M1782 78.6 H1800.8 Q1802.1 78.6 1802.1 79.9 V82.9 H1780.7 V79.9 Q1780.7 78.6 1782 78.6 Z M1789.5 74.5 H1799 V78.6 M1802.9 81.4 H1818 Q1819.3 81.4 1819.3 82.7 V85.7 H1802.9 M1802.1 86.6 H1787 M1805 81.4 L1808 77.5 L1811.5 81.4"/>
<path class="l" d="M1791.5 92.1 H1818.6 V125 M1797.1 92.1 V103 Q1797.1 104.3 1798.4 104.3 H1807.3 Q1808.6 104.3 1808.6 103 V92.1 M1793.5 92.1 V97 M1784.3 87.9 H1820.7"/>
<path class="t" d="M1798 102.3 H1807.7"/>
<!-- right wall notch + inner -->
<path class="l" d="M1819.4 125 V311.5 L1787.7 342.4 H1758.3 M1819.4 280.2 H1823 M1819.4 285.1 H1823"/>
<!-- bottom-left interior -->
<path class="l" d="M1544 280 V309.5 L1572.5 341.5 M1554.7 292.5 V307 H1557.8 V296 M1557.8 307 V313.5 H1562.5 V300.5 M1564.8 303 V337 M1567.8 306.5 V340.5 M1567.8 314.5 H1571.5 Q1574 314.5 1574 317 V342.5 M1544 270 H1540.7 M1544 307 H1540.7"/>
<path class="l" d="M1577 342.5 V331.5 Q1577 327.5 1581 327.5 H1592 M1580 342.5 V334.3 Q1580 331.3 1583 331.3 H1596 M1582.5 342.5 V338 H1591.5 V334.5 H1599 M1573.4 342.5 H1608.5"/>
<!-- octagon front -->
<path class="w" d="M1616 57.4 H1744 Q1749 57.4 1752.5 60.8 L1816 121 Q1819.4 124.5 1819.4 129.5 V277 Q1819.4 282 1815.9 285.5 L1757 342.6 Q1753.6 345.8 1748.6 345.8 H1617.5 Q1612.8 345.8 1609.3 342.4 L1547.3 281.5 Q1543.9 278 1543.9 273 V129.5 Q1543.9 124.5 1547.4 121 L1607.5 61 Q1611 57.4 1616 57.4 Z"/>
<!-- lens rings -->
<circle class="k" cx="1681.6" cy="202.1" r="104.6" stroke-width="2.2"/>
<circle class="l" cx="1681.6" cy="202.1" r="99.5"/>
<circle class="k" cx="1681.6" cy="202.1" r="95.3" stroke-width="1.5"/>
<circle class="t" cx="1681.6" cy="202.1" r="93.9"/>
<circle class="l" cx="1681.6" cy="202.1" r="92.4"/>
<!-- base plate -->
<path class="l" d="M1527.6 340 Q1528.5 346.75 1535 346.75 H1573.4 M1527.6 353.2 L1530.5 356.4 H1773.7 V345.8 M1550.3 346.75 V356.4 M1658.4 345.8 V356.4 M1704.6 345.8 V356.4"/>
<!-- vertical plate -->
<path class="l" d="M1517.5 353.2 V62 Q1517.5 60.7 1518.8 60.7 H1526.3 Q1527.6 60.7 1527.6 62 V353.2 Z M1517.5 238.2 H1527.6"/>
<!-- PCB -->
<path class="l" d="M1468.3 83.3 H1478.4 V339.8 H1468.3 Z"/>
<!-- top connector + standoff -->
<path class="l" d="M1478.4 86.4 H1497.5 M1503.6 89.3 V84.9 Q1503.6 83.6 1504.9 83.6 H1507.3 Q1508.6 83.6 1508.6 84.9 V127.1 H1478.4 M1497.5 86.4 V89.3 H1508.6 M1508.6 92.6 H1517.5 M1508.6 106.9 H1517.5 M1508.6 118.6 H1517.5"/>
<path class="l" d="M1482.5 90.5 V127 M1482.5 93.5 L1494 91 L1492 97 L1484.5 99.5 M1482.5 124 L1494 126.5 L1492 120.5 L1484.5 118 M1480 99.5 H1484.5 M1480 118 H1484.5 M1484 105.5 H1508.6 M1484 111.5 H1508.6 M1484 105.5 V111.5 M1494 105.5 V111.5"/>
<path class="k" d="M1479 88 V126" stroke-dasharray="2.2 1.2"/>
<!-- hdmi side -->
<path class="l" d="M1478.4 129.7 H1489.3 V187.9 H1478.4 M1480.5 135.5 V133 H1486.5 V135.5 Q1488 137 1488 140 V177 Q1488 180 1486.5 181.5 V184 H1480.5 V181.5 Z M1480.5 179 H1486.5 M1480.5 136 H1486.5"/>
<path class="k" d="M1489.3 145 H1495 Q1497.9 145 1497.9 148 V183.4 Q1497.9 186.4 1495 186.4 H1489.3"/>
<path class="t" d="M1490.8 158 H1492 V170 H1490.8 Z M1496 148 V184"/>
<path class="k" d="M1479 131 V187" stroke-dasharray="1.6 1"/>
<path class="l" d="M1478.4 188.6 H1498.6 V216 H1491.5 M1478.4 193 H1491.5 V209.5 H1478.4 M1491.5 209.5 V221.5 H1478.4 M1478.4 216 H1491.5 M1478.4 225.5 H1489 V221.5"/>
<path class="k" d="M1480.5 193.5 H1491" stroke-width="2.6"/>
<!-- usb-c side -->
<path class="k" d="M1488 235.5 H1497 Q1501.9 235.5 1501.9 240.5 V294.3 Q1501.9 299.3 1497 299.3 H1488 Q1484.2 299.3 1484.2 295.5 V239.3 Q1484.2 235.5 1488 235.5 Z" stroke-width="1.5"/>
<path class="t" d="M1499 250 V288 M1500.2 250 V288 M1499 250 Q1499 247 1501.5 246 M1499 288 Q1499 291 1501.5 292.5"/>
<path class="l" d="M1478.4 236 H1481.5 V244 H1478.4 M1480 244 V266 H1484.2 M1480 247 H1484.2 M1478.4 266 H1486 V298 H1478.4 M1486 276.5 H1488.5 V284.5 H1486 M1480 284.5 V297 M1482.5 284.5 V297 M1480 291 H1484"/>
<path class="k" d="M1479 226 V300" stroke-dasharray="1.8 1.1"/>
<!-- bottom standoff -->
<path class="l" d="M1478.4 302 H1488.2 V318.5 H1478.4 M1488.2 305 H1516.4 M1488.2 313 H1516.4 M1480 327.5 H1516.4 M1480 333.9 H1516.4 M1516.4 305 V333.9 M1480 320.5 V333.9"/>
<path class="k" d="M1479 320 V334" stroke-dasharray="1.6 1.1"/>
<!-- left of PCB components -->
<path class="l" d="M1468.3 89.3 H1461.1 V111.4 H1468.3 M1461.1 95.5 H1466.5 V89.3 M1463 101.5 H1468.3 M1463 101.5 V108.5 M1461.1 108.5 H1468.3"/>
<path class="k" d="M1461.5 109.8 H1468"/>
<path class="l" d="M1468.3 119.3 H1457.4 V134.3 H1462 V127.5 H1468.3 M1462 134.3 V143.5 H1466 V138 H1468.3 M1466 143.5 V150 M1468.3 150 H1460.5 V161 H1468.3 M1463 150 V146.5 M1460.5 153 H1462.5 V160 H1460.5 M1464.5 164 V176 H1468.3 M1462.5 177 H1468.3 M1462.5 177 V199 H1468.3 M1464 181 H1466 V186 H1464 Z M1465 190 H1467 V195 H1465 Z"/>
<path class="k" d="M1467.8 114 V232" stroke-dasharray="2 1.3"/>
<path class="l" d="M1468.3 199.5 H1457.5 V203.5 H1454.5 V215 H1468.3 M1457.5 203.5 H1468.3 M1462 215 V222 H1465.5 V226 H1468.3"/>
<path class="l" d="M1468.3 231.5 H1459.5 V248 H1468.3 M1459.5 241 H1468.3 M1457.5 248 H1468.3 M1457.5 248 V268.5 H1468.3 M1462.5 268.5 V274 H1465 V277 M1456 276.5 H1468.3 M1456 276.5 V288 H1462.5 V281 H1468.3 M1462.5 288 V316 H1468.3 M1458 297.5 H1462.5 M1458 297.5 V317.5 H1462.5"/>
<path class="k" d="M1467.8 284 V316" stroke-dasharray="1.5 1"/>
<path class="l" d="M1455.6 309 V330.5 H1464.5 M1464.5 320 V334 H1468.3 M1466 320 H1468.3"/>
<path class="k" d="M1455.6 329.5 H1461"/>
<circle class="f" cx="1455.4" cy="309.8" r="1"/>
</g>

<!-- 40_v4.svg -->
<g id="v4">
<path class="w" d="M166 695.1 L147.2 684.3 V678.5 Q147.4 676.3 151.6 675.6 L316 581.2 Q320 578.8 324 580.5 L328 582.5"/>
<path class="l" d="M153.7 677.8 L170.4 687.2 M153.7 677.8 V684 M147.2 684.3 L151 681"/>
<path class="w" d="M183.4 666.2 L333.8 579.8 L528.0 687.5 L533.8 692.6 L516.5 701.2 L513.6 715.7 L418.6 771.1 L369.4 777.9 L347.0 815.2 L300.0 790.0 L158.8 706.7 Z"/>
<path class="t" d="M248.5 626.4 L327 581.6"/>
<path class="l" d="M239.8 625.7 L247.8 629.3 L248.5 626.4"/>
<path class="t" d="M339.6 584.5 L355.5 593.9 M371.4 606.2 L388.8 616.3"/>
<path class="l" d="M352.6 604.7 L361.3 598.9 Q363.5 598 365 599.3 M353.8 606.6 L363 600.8 M352.6 604.7 Q351.5 606 353.8 606.6 M365 599.3 L372 603.5 M366 601.5 L375 607"/>
<path class="l" d="M398.9 619.2 L376.2 632.5 L451.4 675.9 L475.2 665.1 L516.5 699.8"/>
<path class="l" d="M378.3 634 L439.8 669.4 M387.7 631.1 L441.2 662.2 M399.3 634.7 L444.1 660.7 M408 635.4 L462.9 667.3 M440.5 661.5 V670.9 M441.2 662.2 Q447 661 448 665.5 Q449 668 453 668 L459 671"/>
<path class="l" d="M381.9 632.5 L395.7 624.6 V636.2 M399 619.5 V635.4 M398.9 636.5 L403 634.5 Q408 633 411 636"/>
<ellipse class="l" cx="401.5" cy="621.7" rx="4.6" ry="4.3"/>
<path class="k" d="M441 671.5 L452 677 M442 673.5 L450 677.8 M443 669.8 L455 675.8"/>
<path class="t" d="M481 669.4 L499.1 679.5"/>
<ellipse class="l" cx="454.0" cy="654.2" rx="5.8" ry="4.0"/>
<ellipse class="t" cx="454.0" cy="654.2" rx="3.4" ry="2.3"/>
<path class="l" d="M499.8 689.7 L509.9 683.9 M504 690 L509.2 687 M509.2 685.3 V696.2 M512.1 684 V694.5 M499.8 689.7 L509.2 696.2 L516.5 701.2"/>
<ellipse class="l" cx="513.6" cy="685.6" rx="3.8" ry="3.6"/>
<path class="l" d="M516.5 699.8 L528.5 693 L534.5 696.5 L534 699.5 L521 707 M528 687.5 L534.5 691.5 V696.5"/>
<path class="l" d="M534.5 698.4 L557.7 709.9 V736 M554.8 711.5 V734.5 M515 720 L532.4 722.9 L554.8 709.9 M532.4 723.7 L565.6 743.2 Q568.5 745.5 568.5 749 V805 M536 722.5 L557.7 710.5"/>
<path class="t" d="M541 697.5 L551 702.8"/>
<ellipse class="w" cx="525.6" cy="708.8" rx="9.3" ry="6.2"/>
<ellipse class="t" cx="525.6" cy="708.0" rx="7.8" ry="4.9"/>
<path class="k" d="M521.6 705.8 L529.6 710.3 M529.1 705.8 L522.1 710.3"/>
<path class="t" d="M521.6 712.4 Q525.6 713.8 529.6 712.4"/>
<path class="l" d="M513.6 715.7 L418.6 771.1"/>
<path class="k" d="M513.6 718.3 L421 772.3 M513.6 720.3 L423.5 773"/>
<ellipse class="l" cx="326.1" cy="631.0" rx="16.6" ry="9.7"/>
<path class="t" d="M310.5 630.0 Q317.1 623.8 326.1 623.6 Q335.1 623.8 341.7 630.0"/>
<ellipse class="l" cx="368.1" cy="655.1" rx="16.6" ry="9.7"/>
<path class="t" d="M352.5 654.1 Q359.1 647.9 368.1 647.7 Q377.1 647.9 383.7 654.1"/>
<ellipse class="l" cx="410.0" cy="679.4" rx="16.6" ry="9.7"/>
<path class="t" d="M394.4 678.4 Q401.0 672.2 410.0 672.0 Q419.0 672.2 425.6 678.4"/>
<ellipse class="l" cx="452.0" cy="703.5" rx="16.6" ry="9.7"/>
<path class="t" d="M436.4 702.5 Q443.0 696.3 452.0 696.1 Q461.0 696.3 467.6 702.5"/>
<ellipse class="l" cx="270.6" cy="663.3" rx="16.6" ry="9.7"/>
<path class="t" d="M255.0 662.3 Q261.6 656.1 270.6 655.9 Q279.6 656.1 286.2 662.3"/>
<ellipse class="l" cx="312.4" cy="687.4" rx="16.6" ry="9.7"/>
<path class="t" d="M296.8 686.4 Q303.4 680.2 312.4 680.0 Q321.4 680.2 328.0 686.4"/>
<ellipse class="l" cx="354.2" cy="711.5" rx="16.6" ry="9.7"/>
<path class="t" d="M338.6 710.5 Q345.2 704.3 354.2 704.1 Q363.2 704.3 369.8 710.5"/>
<ellipse class="l" cx="396.5" cy="735.5" rx="16.6" ry="9.7"/>
<path class="t" d="M380.9 734.5 Q387.5 728.3 396.5 728.1 Q405.5 728.3 412.1 734.5"/>
<path class="l" d="M368.5 649.3 V662.6 M368.5 649.3 L384.1 657.4 M368.5 662.6 L375.1 664.1"/>
<path class="l" d="M395.0 676.1 L415.0 685.5 M415.0 674.6 V686.9 M415.0 674.6 L425.0 679.7"/>
<path d="M162.4 706.8 L169.5 702.6 L316.6 787.4 L341.5 830.5 L341.5 939.1 L334.4 943.2 Z" fill="#fff" stroke="none"/>
<path class="l" d="M162.4 706.8 L169.5 702.6 L223.3 733.7 L216.1 737.8 M292.8 781.9 L299.9 777.8 L316.6 787.4 L341.5 830.5 M309.5 791.5 L316.6 787.4 M334.4 834.6 L341.5 830.5"/>
<path d="M145.8 715.6 L162.4 706.8 L216.1 737.8 L218.2 741.5 L218.2 746.8 L220.7 750.9 L287.9 789.7 L290.4 788.4 L290.4 783.1 L292.8 781.9 L309.5 791.5 L334.4 834.6 L334.4 943.2 L145.8 834.3 Z" fill="#fff" stroke="none"/>
<path class="l" d="M145.8 715.6 L162.4 706.8 L216.1 737.8 L218.2 741.5 L218.2 746.8 L220.7 750.9 L287.9 789.7 L290.4 788.4 L290.4 783.1 L292.8 781.9 L309.5 791.5 L334.4 834.6"/>
<ellipse class="l" cx="160.5" cy="737.7" rx="4.6" ry="7.6" transform="rotate(-25 160.5 737.7)"/>
<path class="t" d="M159.0 732.7 L163.5 741.7"/>
<ellipse class="l" cx="199.6" cy="745.7" rx="4.6" ry="7.6" transform="rotate(-25 199.6 745.7)"/>
<path class="t" d="M198.1 740.7 L202.6 749.7"/>
<ellipse class="l" cx="223.4" cy="765.2" rx="4.6" ry="7.6" transform="rotate(-25 223.4 765.2)"/>
<path class="t" d="M221.9 760.2 L226.4 769.2"/>
<path class="l" d="M183.4 666.2 L158.8 706.7"/>
<path class="l" d="M185.6 673.4 L195 679.2 M189.2 669.8 L198.6 675.3"/>
<path class="l" d="M186.3 710.3 L201 685 Q204.5 678.8 215.2 677.7 Q222 677.2 229.7 680.6 L343.4 746.2 Q349 749.5 346 754.5 L330.4 779.1"/>
<path class="l" d="M189.9 711 L203.5 687.5 Q206.5 681.5 215.2 680.6 Q221 680.2 227 683 L338 747.5"/>
<path class="l" d="M189.2 708.1 L300 772 M191.5 706 L305 771.5 M300 761.7 L330.4 779.1"/>
<path class="l" d="M347.7 766.8 L362.2 774.7 M350.6 763.9 L365.8 771.8"/>
<path class="l" d="M241.2 732 V714.6 L260 703.8 L343 751 M241.2 714.6 L300 748"/>
<path class="l" d="M226.5 727.2 Q228 724.8 232 725.6 L240 728.6 Q242 730.6 239.5 731.6 L231 730.2 Q226.5 729.5 226.5 727.2 Z"/>
<path class="t" d="M246 722 L262 731 M244 724.5 L258 732.5"/>
<ellipse class="w" cx="216.4" cy="706.7" rx="9.8" ry="6.4"/>
<ellipse class="t" cx="216.4" cy="705.9" rx="8.3" ry="5.1"/>
<path class="k" d="M212.4 703.7 L220.4 708.2 M219.9 703.7 L212.9 708.2"/>
<path class="t" d="M212.4 710.3 Q216.4 711.7 220.4 710.3"/>
<ellipse class="w" cx="261.8" cy="754.4" rx="9.8" ry="6.4"/>
<ellipse class="t" cx="261.8" cy="753.6" rx="8.3" ry="5.1"/>
<path class="k" d="M257.8 751.4 L265.8 755.9 M265.3 751.4 L258.3 755.9"/>
<path class="t" d="M257.8 758.0 Q261.8 759.4 265.8 758.0"/>
<path class="l" d="M207 776 L236 759.5 Q241 761 244 770 L245.5 789 M221 784 L243 771.5 M195 782.5 L209 774.5 L221 781.5"/>
<path class="k" d="M196.5 780 L206 785.5 M199 778.5 L208.5 784 M201.5 777 L211 782.5"/>
<path class="l" d="M141 737.5 L148 733.5 L203 765 V781 M141 737.5 V750 M148 733.5 V746 M148 738.5 L198 767.5 V779"/>
<path class="k" d="M151.0 741.5 v3.5"/>
<path class="k" d="M155.6 744.2 v3.5"/>
<path class="k" d="M160.2 746.8 v3.5"/>
<path class="k" d="M164.8 749.5 v3.5"/>
<path class="k" d="M169.4 752.1 v3.5"/>
<path class="k" d="M174.0 754.8 v3.5"/>
<path class="k" d="M178.6 757.5 v3.5"/>
<path class="k" d="M183.2 760.1 v3.5"/>
<path class="k" d="M187.8 762.8 v3.5"/>
<path class="k" d="M192.4 765.4 v3.5"/>
<path class="k" d="M197.0 768.1 v3.5"/>
<path class="l" d="M96 714.5 L104 710 L128 724 V733 M96 714.5 V722 M101 712.5 V720.5 M104 715 L125 727"/>
<path class="k" d="M107.0 719.5 v3"/>
<path class="k" d="M111.5 722.1 v3"/>
<path class="k" d="M116.0 724.7 v3"/>
<path class="k" d="M120.5 727.3 v3"/>
<path class="l" d="M128 724 L140 717.5 M132 729.5 L140 725 V717.5"/>
<path class="l" d="M139.5 720.5 L161.5 706.5 M139.5 720.5 V734"/>
<path class="w" d="M236 793.5 L256 782 L302 808.5 V823 L284 833.5 M236 793.5 L282 820 L302 808.5 M282 820 V834"/>
<path class="l" d="M241.0 796.5 l14 -8.1"/>
<path class="k" d="M241.0 796.5 l4 -2.3"/>
<path class="l" d="M245.9 799.3 l14 -8.1"/>
<path class="k" d="M245.9 799.3 l4 -2.3"/>
<path class="l" d="M250.8 802.2 l14 -8.1"/>
<path class="k" d="M250.8 802.2 l4 -2.3"/>
<path class="l" d="M255.7 805.0 l14 -8.1"/>
<path class="k" d="M255.7 805.0 l4 -2.3"/>
<path class="l" d="M260.6 807.8 l14 -8.1"/>
<path class="k" d="M260.6 807.8 l4 -2.3"/>
<path class="l" d="M265.5 810.6 l14 -8.1"/>
<path class="k" d="M265.5 810.6 l4 -2.3"/>
<path class="l" d="M270.4 813.5 l14 -8.1"/>
<path class="k" d="M270.4 813.5 l4 -2.3"/>
<path class="l" d="M275.3 816.3 l14 -8.1"/>
<path class="k" d="M275.3 816.3 l4 -2.3"/>
<path class="l" d="M280.2 819.1 l14 -8.1"/>
<path class="k" d="M280.2 819.1 l4 -2.3"/>
<path class="l" d="M312.1 788.2 L336.1 830 V943.4 M317.5 787.1 L341.5 827.9 V943.4 L330.9 949.2 V1018.6 M324.4 1021.5 V948 Q324.6 945.6 326.6 945 L330.9 949.2 M326.6 945 L336.1 939.5"/>
<ellipse class="l" cx="310.0" cy="808.1" rx="4.4" ry="7.4" transform="rotate(-25 310.0 808.1)"/>
<ellipse class="l" cx="322.9" cy="839.6" rx="4.4" ry="7.4" transform="rotate(-25 322.9 839.6)"/>
<path class="t" d="M308.5 803 L313 812 M321.4 834.5 L325.9 843.5"/>
<path class="l" d="M330.4 779.1 L323.1 790.6 L341.9 826.8 M333.3 805.8 L341.9 811.6 M336.2 813.8 L343.4 817.4 M322 776 L312.1 788.2 M326 777 L317.5 787.1"/>
<path class="l" d="M300 790 L312.1 788.2"/>
<path class="l" d="M373.2 864.3 V983.9 M371.4 866 V981 M364.9 872.9 V963.6"/>
<path class="l" d="M362 971.6 V981 L349.7 994 L345.3 992.6 M362 971.6 H367.8 L371.4 973 M358.4 992.6 H367 M359.8 992.6 V1005.6 M367.8 992.6 V1008.5 M345.3 994 L359.8 1005.6"/>
<path class="k" d="M358.6 992.6 V1004.6"/>
<path class="l" d="M369.4 777.9 L416.4 772.5 L421.5 771.1 L373 860 M369.4 777.9 L347 815.2 L362.9 860 Q365 865.8 368 865.8 L372.3 864.4"/>
<path class="l" d="M371.6 779.8 L415.7 774.7 M371.6 779.8 L350.6 815.2"/>
<path class="l" d="M357.9 803.6 Q372 808.5 381 807.3 Q388 806 392.6 800.7 L409.9 789.9 L415.7 774.7 M356.5 806.3 Q372 811.5 382 810 Q390 808.5 395 803.5 L408 795.5"/>
<path class="l" d="M350.6 815.9 L365.1 826.8 Q371.5 833 372.3 844.1 V864.4 M353 819.5 Q364 828 366.5 837 Q369 846 368 861"/>
<ellipse class="l" cx="359.3" cy="832.6" rx="4.2" ry="7.3" transform="rotate(-20 359.3 832.6)"/>
<path class="t" d="M356.5 828 Q361 832.5 360.5 838.5"/>
<path class="l" d="M401.2 803.6 L378.8 832.6 V841.2 L373 855.7 M404 803.5 L381.5 833.5 V841.5 L375.5 856"/>
<ellipse class="w" cx="385.3" cy="785.1" rx="9.8" ry="6.4"/>
<ellipse class="t" cx="385.3" cy="784.3" rx="8.3" ry="5.1"/>
<path class="k" d="M381.3 782.1 L389.3 786.6 M388.8 782.1 L381.8 786.6"/>
<path class="t" d="M381.3 788.7 Q385.3 790.1 389.3 788.7"/>
<ellipse class="t" cx="402.0" cy="778.5" rx="3.2" ry="1.6"/>
<g transform="matrix(0.70711 -0.40825 0 0.8165 -718.6 1387.3)"><path class="w" d="M1616 57.4 H1744 Q1749 57.4 1752.5 60.8 L1816 121 Q1819.4 124.5 1819.4 129.5 V277 Q1819.4 282 1815.9 285.5 L1757 342.6 Q1753.6 345.8 1748.6 345.8 H1617.5 Q1612.8 345.8 1609.3 342.4 L1547.3 281.5 Q1543.9 278 1543.9 273 V129.5 Q1543.9 124.5 1547.4 121 L1607.5 61 Q1611 57.4 1616 57.4 Z"/></g>
<path class="l" d="M373.5 983.9 Q372.8 990 367 992.6 M368.5 1008.5 L413.3 1006.3 M368.5 1012.1 L411.9 1008.5 L415.5 1009.2 M332.3 985.3 L367 1009.9 L368.5 1012.1 M332.3 989.7 L361.2 1008.5 M330.9 1015.7 L352.6 1002.7 M334.5 1007.8 V1012 M313.8 1028.7 L330.9 1018.6 M324.4 1021.5 L326 1020.5"/>
<path class="l" d="M306.3 950.6 L313.8 946.3 M306.3 954.2 L313.8 949.9 M306.3 957.9 L313.8 953.6 M306.3 961.5 L313.8 957.2"/>
<ellipse class="w" cx="471.6" cy="866.5" rx="104.6" ry="60.4" transform="rotate(-60 471.6 866.5)"/>
<path d="M523.9 775.9 L554.1 793.3 L449.5 974.5 L419.3 957.1 Z" fill="#fff" stroke="none"/>
<ellipse class="l" cx="478.8" cy="870.6" rx="104.6" ry="60.4" transform="rotate(-60 478.8 870.6)"/>
<path class="l" d="M523.9 775.9 L554.1 793.3 M419.3 957.1 L449.5 974.5"/>
<ellipse class="wk" cx="501.8" cy="883.9" rx="104.6" ry="60.4" transform="rotate(-60 501.8 883.9)" stroke-width="2"/>
<ellipse class="l" cx="501.8" cy="883.9" rx="99.5" ry="57.4" transform="rotate(-60 501.8 883.9)"/>
<clipPath id="lc"><ellipse cx="501.8" cy="883.9" rx="99.5" ry="57.4" transform="rotate(-60 501.8 883.9)"/></clipPath>
<g clip-path="url(#lc)">
<ellipse class="k" cx="492.8" cy="878.7" rx="95.5" ry="55.1" transform="rotate(-60 492.8 878.7)" stroke-width="1.6"/>
<ellipse class="t" cx="492.8" cy="878.7" rx="93.6" ry="54.0" transform="rotate(-60 492.8 878.7)"/>
<ellipse class="l" cx="490.8" cy="877.5" rx="92.5" ry="53.4" transform="rotate(-60 490.8 877.5)"/>
</g>
</g>
<!-- 48_v4pcb.svg -->
<g id="v4pcb" transform="matrix(0.70711 0.40825 0 0.8165 -523.65 301.04)">
<path class="w" d="M838.7 83.6 L848.8 73.5 H1183.4 V329 L1173.3 339.1 Z"/>
<path class="l" d="M1173.3 83.6 L1183.4 73.5"/>
<path class="w" d="M838.7 83.6 H1173.3 V339.1 H838.7 Z"/>
<path class="w" d="M964.4 139.7 H1056.6 V231.6 L1051.6 236.6 H959.4 V144.7 Z"/>
<path class="l" d="M959.4 144.7 H1051.6 V236.6 M1051.6 144.7 L1056.6 139.7"/>
<circle class="l" cx="974.0" cy="221.5" r="3.4"/>
<circle class="l" cx="1022.1" cy="105.4" r="12.5"/>
<circle class="wk" cx="1020.6" cy="106.9" r="12.5"/>
<circle class="l" cx="1020.6" cy="106.9" r="9.6"/>
<path class="k" d="M1027.6 109.4 L1021.9 114.2 L1014.9 111.7 L1013.6 104.4 L1019.3 99.6 L1026.3 102.1 Z"/>
<circle class="l" cx="923.5" cy="320.0" r="12.5"/>
<circle class="wk" cx="922.0" cy="321.5" r="12.5"/>
<circle class="l" cx="922.0" cy="321.5" r="9.6"/>
<path class="k" d="M929.0 324.0 L923.3 328.8 L916.3 326.3 L915.0 319.0 L920.7 314.2 L927.7 316.7 Z"/>
<circle class="l" cx="1077.8" cy="320.0" r="12.5"/>
<circle class="wk" cx="1076.2" cy="321.5" r="12.5"/>
<circle class="l" cx="1076.2" cy="321.5" r="9.6"/>
<path class="k" d="M1083.2 324.0 L1077.5 328.8 L1070.6 326.3 L1069.3 319.0 L1075.0 314.2 L1081.9 316.7 Z"/>
<path class="w" d="M908.6 91.9 H912.5 V94.3 L910.9 95.9 H907.0 V93.5 Z"/>
<path class="l" d="M907.0 93.5 H910.9 V95.9 M910.9 93.5 L912.5 91.9"/>
<path class="w" d="M915.5 91.9 H919.4 V94.3 L917.8 95.9 H913.9 V93.5 Z"/>
<path class="l" d="M913.9 93.5 H917.8 V95.9 M917.8 93.5 L919.4 91.9"/>
<path class="w" d="M897.5 97.3 H899.9 V101.5 L898.3 103.1 H895.9 V98.9 Z"/>
<path class="l" d="M895.9 98.9 H898.3 V103.1 M898.3 98.9 L899.9 97.3"/>
<path class="w" d="M927.0 97.5 H929.3 V101.6 L927.7 103.2 H925.4 V99.1 Z"/>
<path class="l" d="M925.4 99.1 H927.7 V103.2 M927.7 99.1 L929.3 97.5"/>
<path class="w" d="M918.3 104.4 H923.1 V106.5 L921.5 108.1 H916.7 V106.0 Z"/>
<path class="l" d="M916.7 106.0 H921.5 V108.1 M921.5 106.0 L923.1 104.4"/>
<path class="w" d="M934.2 106.0 H937.4 V110.5 L935.8 112.1 H932.6 V107.6 Z"/>
<path class="l" d="M932.6 107.6 H935.8 V112.1 M935.8 107.6 L937.4 106.0"/>
<path class="w" d="M898.2 121.6 H900.3 V126.1 L898.7 127.7 H896.6 V123.2 Z"/>
<path class="l" d="M896.6 123.2 H898.7 V127.7 M898.7 123.2 L900.3 121.6"/>
<path class="w" d="M911.3 120.9 H913.8 V125.4 L912.2 127.0 H909.7 V122.5 Z"/>
<path class="l" d="M909.7 122.5 H912.2 V127.0 M912.2 122.5 L913.8 120.9"/>
<path class="w" d="M869.8 122.9 H872.3 V127.1 L870.7 128.7 H868.2 V124.5 Z"/>
<path class="l" d="M868.2 124.5 H870.7 V128.7 M870.7 124.5 L872.3 122.9"/>
<path class="w" d="M904.0 113.0 H907.9 V115.4 L906.3 117.0 H902.4 V114.6 Z"/>
<path class="l" d="M902.4 114.6 H906.3 V117.0 M906.3 114.6 L907.9 113.0"/>
<path class="w" d="M904.0 116.0 H907.9 V118.5 L906.3 120.1 H902.4 V117.6 Z"/>
<path class="l" d="M902.4 117.6 H906.3 V120.1 M906.3 117.6 L907.9 116.0"/>
<path class="wk" d="M902.6 96.4 H908.6 V101.9 L907.0 103.5 H901.0 V98.0 Z"/>
<path class="k" d="M901.0 98.0 H907.0 V103.5 M907.0 98.0 L908.6 96.4"/>
<path class="wk" d="M918.0 96.8 H923.8 V102.3 L922.2 103.9 H916.4 V98.4 Z"/>
<path class="k" d="M916.4 98.4 H922.2 V103.9 M922.2 98.4 L923.8 96.8"/>
<path class="wk" d="M931.4 96.8 H937.4 V102.3 L935.8 103.9 H929.8 V98.4 Z"/>
<path class="k" d="M929.8 98.4 H935.8 V103.9 M935.8 98.4 L937.4 96.8"/>
<path class="wk" d="M902.6 104.7 H908.6 V110.2 L907.0 111.8 H901.0 V106.3 Z"/>
<path class="k" d="M901.0 106.3 H907.0 V111.8 M907.0 106.3 L908.6 104.7"/>
<path class="wk" d="M902.6 121.3 H908.6 V126.5 L907.0 128.1 H901.0 V122.9 Z"/>
<path class="k" d="M901.0 122.9 H907.0 V128.1 M907.0 122.9 L908.6 121.3"/>
<path class="wk" d="M874.0 122.2 H879.8 V128.2 L878.2 129.8 H872.4 V123.8 Z"/>
<path class="k" d="M872.4 123.8 H878.2 V129.8 M878.2 123.8 L879.8 122.2"/>
<path class="f" d="M919 101.5 h2.5 v-3 z M932 101.5 h2.5 v-2.5 z M905.5 109.5 h2.5 v-2.5 z M875 127.5 h2.5 v-2 z"/>
<circle class="f" cx="887.8" cy="104.0" r="0.9"/>
<circle class="l" cx="850.4" cy="126.4" r="4.1"/>
<path class="l" d="M946.2 89.4 H978.2 V98.5 A2.6 2.6 0 0 0 978.2 103.7 V112.6 H946.2 V103.7 A2.6 2.6 0 0 0 946.2 98.5 Z M951.5 89.4 V112.6 M971.3 89.4 V112.6 M973.6 89.4 V112.6"/>
<path class="wk" d="M987.2 93.2 H997.6 V110.2 L991.6 116.2 H981.2 V99.2 Z"/>
<path class="k" d="M981.2 99.2 H991.6 V116.2 M991.6 99.2 L997.6 93.2"/>
<rect class="f" x="846.7" y="143.4" width="12.1" height="4.6" rx="2.2"/>
<rect class="f" x="846.7" y="184" width="12.1" height="4.8" rx="2.2"/>
<rect class="f" x="856.3" y="235.6" width="10.1" height="4.3" rx="2.2"/>
<rect class="f" x="856.3" y="294.8" width="10.1" height="3.9" rx="2.2"/>
<rect class="f" x="850" y="143.4" width="8.8" height="4.6" rx="2.2"/>
<path class="w" d="M875.1 140.2 H878.5 V146.5 L876.9 148.1 H873.5 V141.8 Z"/>
<path class="l" d="M873.5 141.8 H876.9 V148.1 M876.9 141.8 L878.5 140.2"/>
<path class="w" d="M901.7 139.6 H905.5 V145.9 L903.9 147.5 H900.1 V141.2 Z"/>
<path class="l" d="M900.1 141.2 H903.9 V147.5 M903.9 141.2 L905.5 139.6"/>
<path class="w" d="M909.5 144.5 H916.6 V147.6 L915.0 149.2 H907.9 V146.1 Z"/>
<path class="l" d="M907.9 146.1 H915.0 V149.2 M915.0 146.1 L916.6 144.5"/>
<path class="w" d="M947.3 149.2 H949.7 V153.5 L948.1 155.1 H945.7 V150.8 Z"/>
<path class="l" d="M945.7 150.8 H948.1 V155.1 M948.1 150.8 L949.7 149.2"/>
<path class="w" d="M999.5 128.5 H1003.4 V135.4 L1001.8 137.0 H997.9 V130.1 Z"/>
<path class="l" d="M997.9 130.1 H1001.8 V137.0 M1001.8 130.1 L1003.4 128.5"/>
<path class="w" d="M1005.5 128.5 H1009.3 V135.4 L1007.7 137.0 H1003.9 V130.1 Z"/>
<path class="l" d="M1003.9 130.1 H1007.7 V137.0 M1007.7 130.1 L1009.3 128.5"/>
<path class="w" d="M925.5 163.5 H927.7 V167.6 L926.1 169.2 H923.9 V165.1 Z"/>
<path class="l" d="M923.9 165.1 H926.1 V169.2 M926.1 165.1 L927.7 163.5"/>
<path class="w" d="M930.7 163.2 H934.6 V169.7 L933.0 171.3 H929.1 V164.8 Z"/>
<path class="l" d="M929.1 164.8 H933.0 V171.3 M933.0 164.8 L934.6 163.2"/>
<path class="w" d="M920.3 184.3 H924.8 V186.3 L923.2 187.9 H918.7 V185.9 Z"/>
<path class="l" d="M918.7 185.9 H923.2 V187.9 M923.2 185.9 L924.8 184.3"/>
<path class="w" d="M919.4 188.4 H925.9 V192.6 L924.3 194.2 H917.8 V190.0 Z"/>
<path class="l" d="M917.8 190.0 H924.3 V194.2 M924.3 190.0 L925.9 188.4"/>
<path class="w" d="M955.0 180.8 H959.5 V182.9 L957.9 184.5 H953.4 V182.4 Z"/>
<path class="l" d="M953.4 182.4 H957.9 V184.5 M957.9 182.4 L959.5 180.8"/>
<path class="w" d="M955.0 185.0 H959.5 V187.3 L957.9 188.9 H953.4 V186.6 Z"/>
<path class="l" d="M953.4 186.6 H957.9 V188.9 M957.9 186.6 L959.5 185.0"/>
<path class="w" d="M955.0 192.6 H959.5 V194.6 L957.9 196.2 H953.4 V194.2 Z"/>
<path class="l" d="M953.4 194.2 H957.9 V196.2 M957.9 194.2 L959.5 192.6"/>
<path class="w" d="M846.0 194.6 H849.5 V201.6 L847.9 203.2 H844.4 V196.2 Z"/>
<path class="l" d="M844.4 196.2 H847.9 V203.2 M847.9 196.2 L849.5 194.6"/>
<path class="w" d="M885.3 198.5 H889.6 V207.6 L886.6 210.6 H882.3 V201.5 Z"/>
<path class="l" d="M882.3 201.5 H886.6 V210.6 M886.6 201.5 L889.6 198.5"/>
<path class="w" d="M886.0 212.7 H888.5 V216.6 L886.9 218.2 H884.4 V214.3 Z"/>
<path class="l" d="M884.4 214.3 H886.9 V218.2 M886.9 214.3 L888.5 212.7"/>
<path class="w" d="M914.4 198.4 H920.3 V208.3 L917.3 211.3 H911.4 V201.4 Z"/>
<path class="l" d="M911.4 201.4 H917.3 V211.3 M917.3 201.4 L920.3 198.4"/>
<path class="w" d="M926.6 198.4 H931.8 V208.3 L928.8 211.3 H923.6 V201.4 Z"/>
<path class="l" d="M923.6 201.4 H928.8 V211.3 M928.8 201.4 L931.8 198.4"/>
<path class="w" d="M947.3 204.8 H954.0 V208.3 L952.4 209.9 H945.7 V206.4 Z"/>
<path class="l" d="M945.7 206.4 H952.4 V209.9 M952.4 206.4 L954.0 204.8"/>
<path class="w" d="M941.4 215.9 H947.3 V226.0 L944.3 229.0 H938.4 V218.9 Z"/>
<path class="l" d="M938.4 218.9 H944.3 V229.0 M944.3 218.9 L947.3 215.9"/>
<path class="w" d="M952.6 215.9 H958.4 V226.0 L955.4 229.0 H949.6 V218.9 Z"/>
<path class="l" d="M949.6 218.9 H955.4 V229.0 M955.4 218.9 L958.4 215.9"/>
<path class="w" d="M848.4 229.1 H852.8 V231.6 L851.2 233.2 H846.8 V230.7 Z"/>
<path class="l" d="M846.8 230.7 H851.2 V233.2 M851.2 230.7 L852.8 229.1"/>
<path class="w" d="M849.0 292.0 H853.5 V294.5 L851.9 296.1 H847.4 V293.6 Z"/>
<path class="l" d="M847.4 293.6 H851.9 V296.1 M851.9 293.6 L853.5 292.0"/>
<path class="w" d="M916.9 235.3 H920.8 V242.2 L919.2 243.8 H915.3 V236.9 Z"/>
<path class="l" d="M915.3 236.9 H919.2 V243.8 M919.2 236.9 L920.8 235.3"/>
<path class="w" d="M931.8 233.2 H938.6 V237.4 L937.0 239.0 H930.2 V234.8 Z"/>
<path class="l" d="M930.2 234.8 H937.0 V239.0 M937.0 234.8 L938.6 233.2"/>
<path class="w" d="M955.4 234.3 H959.5 V236.4 L957.9 238.0 H953.8 V235.9 Z"/>
<path class="l" d="M953.8 235.9 H957.9 V238.0 M957.9 235.9 L959.5 234.3"/>
<path class="w" d="M912.3 246.4 H919.0 V250.1 L917.4 251.7 H910.7 V248.0 Z"/>
<path class="l" d="M910.7 248.0 H917.4 V251.7 M917.4 248.0 L919.0 246.4"/>
<path class="w" d="M912.3 252.3 H916.9 V254.9 L915.3 256.5 H910.7 V253.9 Z"/>
<path class="l" d="M910.7 253.9 H915.3 V256.5 M915.3 253.9 L916.9 252.3"/>
<path class="w" d="M934.2 245.3 H936.7 V249.4 L935.1 251.0 H932.6 V246.9 Z"/>
<path class="l" d="M932.6 246.9 H935.1 V251.0 M935.1 246.9 L936.7 245.3"/>
<path class="w" d="M932.4 252.3 H936.7 V254.4 L935.1 256.0 H930.8 V253.9 Z"/>
<path class="l" d="M930.8 253.9 H935.1 V256.0 M935.1 253.9 L936.7 252.3"/>
<path class="w" d="M966.4 243.3 H968.5 V247.5 L966.9 249.1 H964.8 V244.9 Z"/>
<path class="l" d="M964.8 244.9 H966.9 V249.1 M966.9 244.9 L968.5 243.3"/>
<path class="w" d="M966.4 250.5 H970.9 V253.0 L969.3 254.6 H964.8 V252.1 Z"/>
<path class="l" d="M964.8 252.1 H969.3 V254.6 M969.3 252.1 L970.9 250.5"/>
<path class="w" d="M966.4 255.4 H970.9 V257.4 L969.3 259.0 H964.8 V257.0 Z"/>
<path class="l" d="M964.8 257.0 H969.3 V259.0 M969.3 257.0 L970.9 255.4"/>
<path class="w" d="M1011.3 234.3 H1015.6 V236.4 L1014.0 238.0 H1009.7 V235.9 Z"/>
<path class="l" d="M1009.7 235.9 H1014.0 V238.0 M1014.0 235.9 L1015.6 234.3"/>
<path class="w" d="M997.2 257.4 H1001.3 V259.5 L999.7 261.1 H995.6 V259.0 Z"/>
<path class="l" d="M995.6 259.0 H999.7 V261.1 M999.7 259.0 L1001.3 257.4"/>
<path class="w" d="M963.5 263.4 H967.0 V269.9 L965.4 271.5 H961.9 V265.0 Z"/>
<path class="l" d="M961.9 265.0 H965.4 V271.5 M965.4 265.0 L967.0 263.4"/>
<path class="w" d="M969.2 264.4 H971.6 V268.5 L970.0 270.1 H967.6 V266.0 Z"/>
<path class="l" d="M967.6 266.0 H970.0 V270.1 M970.0 266.0 L971.6 264.4"/>
<path class="w" d="M973.6 263.4 H977.1 V269.9 L975.5 271.5 H972.0 V265.0 Z"/>
<path class="l" d="M972.0 265.0 H975.5 V271.5 M975.5 265.0 L977.1 263.4"/>
<path class="w" d="M994.1 271.3 H998.1 V273.4 L996.5 275.0 H992.5 V272.9 Z"/>
<path class="l" d="M992.5 272.9 H996.5 V275.0 M996.5 272.9 L998.1 271.3"/>
<path class="w" d="M993.0 275.4 H999.5 V279.2 L997.9 280.8 H991.4 V277.0 Z"/>
<path class="l" d="M991.4 277.0 H997.9 V280.8 M997.9 277.0 L999.5 275.4"/>
<path class="w" d="M1009.2 268.8 H1015.6 V272.4 L1014.0 274.0 H1007.6 V270.4 Z"/>
<path class="l" d="M1007.6 270.4 H1014.0 V274.0 M1014.0 270.4 L1015.6 268.8"/>
<path class="w" d="M1009.2 274.7 H1013.4 V276.5 L1011.8 278.1 H1007.6 V276.3 Z"/>
<path class="l" d="M1007.6 276.3 H1011.8 V278.1 M1011.8 276.3 L1013.4 274.7"/>
<path class="w" d="M940.4 286.5 H945.0 V289.7 L943.4 291.3 H938.8 V288.1 Z"/>
<path class="l" d="M938.8 288.1 H943.4 V291.3 M943.4 288.1 L945.0 286.5"/>
<path class="w" d="M940.4 290.2 H945.0 V293.4 L943.4 295.0 H938.8 V291.8 Z"/>
<path class="l" d="M938.8 291.8 H943.4 V295.0 M943.4 291.8 L945.0 290.2"/>
<path class="w" d="M970.4 279.3 H974.3 V285.4 L972.7 287.0 H968.8 V280.9 Z"/>
<path class="l" d="M968.8 280.9 H972.7 V287.0 M972.7 280.9 L974.3 279.3"/>
<path class="w" d="M976.4 281.2 H979.4 V285.4 L977.8 287.0 H974.8 V282.8 Z"/>
<path class="l" d="M974.8 282.8 H977.8 V287.0 M977.8 282.8 L979.4 281.2"/>
<path class="w" d="M969.5 295.5 H972.7 V301.5 L971.1 303.1 H967.9 V297.1 Z"/>
<path class="l" d="M967.9 297.1 H971.1 V303.1 M971.1 297.1 L972.7 295.5"/>
<path class="w" d="M976.8 295.5 H979.9 V301.5 L978.3 303.1 H975.2 V297.1 Z"/>
<path class="l" d="M975.2 297.1 H978.3 V303.1 M978.3 297.1 L979.9 295.5"/>
<path class="w" d="M845.6 303.5 H854.3 V319.3 L845.3 328.3 H836.6 V312.5 Z"/>
<path class="l" d="M836.6 312.5 H845.3 V328.3 M845.3 312.5 L854.3 303.5"/>
<path class="w" d="M968.8 310.0 H972.7 V316.5 L971.1 318.1 H967.2 V311.6 Z"/>
<path class="l" d="M967.2 311.6 H971.1 V318.1 M971.1 311.6 L972.7 310.0"/>
<path class="w" d="M975.3 313.2 H978.5 V317.4 L976.9 319.0 H973.7 V314.8 Z"/>
<path class="l" d="M973.7 314.8 H976.9 V319.0 M976.9 314.8 L978.5 313.2"/>
<path class="w" d="M972.9 319.3 H977.4 V321.5 L975.8 323.1 H971.3 V320.9 Z"/>
<path class="l" d="M971.3 320.9 H975.8 V323.1 M975.8 320.9 L977.4 319.3"/>
<path class="w" d="M969.5 326.2 H975.7 V330.1 L974.1 331.7 H967.9 V327.8 Z"/>
<path class="l" d="M967.9 327.8 H974.1 V331.7 M974.1 327.8 L975.7 326.2"/>
<path class="w" d="M970.2 332.2 H974.6 V334.3 L973.0 335.9 H968.6 V333.8 Z"/>
<path class="l" d="M968.6 333.8 H973.0 V335.9 M973.0 333.8 L974.6 332.2"/>
<path class="w" d="M981.2 322.1 H983.6 V326.4 L982.0 328.0 H979.6 V323.7 Z"/>
<path class="l" d="M979.6 323.7 H982.0 V328.0 M982.0 323.7 L983.6 322.1"/>
<path class="w" d="M986.1 319.0 H989.6 V325.3 L988.0 326.9 H984.5 V320.6 Z"/>
<path class="l" d="M984.5 320.6 H988.0 V326.9 M988.0 320.6 L989.6 319.0"/>
<path class="w" d="M991.6 320.1 H993.4 V323.9 L991.8 325.5 H990.0 V321.7 Z"/>
<path class="l" d="M990.0 321.7 H991.8 V325.5 M991.8 321.7 L993.4 320.1"/>
<path class="w" d="M995.5 320.1 H997.4 V323.9 L995.8 325.5 H993.9 V321.7 Z"/>
<path class="l" d="M993.9 321.7 H995.8 V325.5 M995.8 321.7 L997.4 320.1"/>
<path class="w" d="M999.7 319.0 H1003.4 V325.3 L1001.8 326.9 H998.1 V320.6 Z"/>
<path class="l" d="M998.1 320.6 H1001.8 V326.9 M1001.8 320.6 L1003.4 319.0"/>
<path class="w" d="M1012.4 319.7 H1018.9 V323.2 L1017.3 324.8 H1010.8 V321.3 Z"/>
<path class="l" d="M1010.8 321.3 H1017.3 V324.8 M1017.3 321.3 L1018.9 319.7"/>
<path class="w" d="M1015.4 325.0 H1019.3 V327.1 L1017.7 328.7 H1013.8 V326.6 Z"/>
<path class="l" d="M1013.8 326.6 H1017.7 V328.7 M1017.7 326.6 L1019.3 325.0"/>
<path class="w" d="M1024.2 319.7 H1030.5 V323.2 L1028.9 324.8 H1022.6 V321.3 Z"/>
<path class="l" d="M1022.6 321.3 H1028.9 V324.8 M1028.9 321.3 L1030.5 319.7"/>
<path class="w" d="M947.3 305.5 H963.9 V326.9 L958.9 331.9 H942.3 V310.5 Z"/>
<path class="l" d="M942.3 310.5 H958.9 V331.9 M958.9 310.5 L963.9 305.5"/>
<path class="w" d="M1035.3 321.1 H1037.6 V325.3 L1036.0 326.9 H1033.7 V322.7 Z"/>
<path class="l" d="M1033.7 322.7 H1036.0 V326.9 M1036.0 322.7 L1037.6 321.1"/>
<path class="w" d="M1040.4 320.1 H1043.8 V326.6 L1042.2 328.2 H1038.8 V321.7 Z"/>
<path class="l" d="M1038.8 321.7 H1042.2 V328.2 M1042.2 321.7 L1043.8 320.1"/>
<path class="w" d="M854.3 206.2 H874.7 V226.0 L871.7 229.0 H851.3 V209.2 Z"/>
<path class="l" d="M851.3 209.2 H871.7 V229.0 M871.7 209.2 L874.7 206.2"/>
<path class="k" d="M855.5 206.2 H873.5 M855.5 226 H873.5 M874.7 207.5 V225 M854.3 207.5 V225" stroke-dasharray="1.2 1"/>
<circle class="f" cx="872.3" cy="223.8" r="0.9"/>
<path class="l" d="M844.2 254.4 H853 A2.8 2.8 0 0 0 858.6 254.4 H867.1 V285.4 H858.6 A2.8 2.8 0 0 0 853 285.4 H844.2 Z M844.2 259.5 H867.1 M844.2 278.2 H867.1 M844.2 280.3 H867.1"/>
<circle class="f" cx="892.7" cy="247.3" r="1.7"/>
<circle class="f" cx="887.8" cy="251.5" r="1.7"/>
<circle class="f" cx="887.8" cy="256.7" r="1.7"/>
<circle class="f" cx="892.7" cy="259.2" r="1.7"/>
<circle class="f" cx="887.8" cy="261.9" r="1.7"/>
<circle class="f" cx="892.7" cy="264.5" r="1.7"/>
<circle class="f" cx="892.7" cy="269.9" r="1.7"/>
<circle class="f" cx="887.8" cy="272.4" r="1.7"/>
<circle class="f" cx="892.7" cy="275.2" r="1.7"/>
<circle class="f" cx="887.8" cy="277.8" r="1.7"/>
<circle class="f" cx="887.8" cy="283.0" r="1.7"/>
<circle class="f" cx="892.7" cy="287.2" r="1.7"/>
<circle class="f" cx="887.8" cy="242.6" r="2.8"/>
<circle class="f" cx="887.8" cy="291.6" r="2.8"/>
<rect class="f" x="894.2" y="235.3" width="8.2" height="4.8" rx="2.4"/>
<circle class="f" cx="895.8" cy="240.8" r="2"/>
<rect class="f" x="894" y="294" width="8.4" height="4.6" rx="2.3"/>
<circle class="f" cx="895.8" cy="292.6" r="2"/>
<path class="w" d="M891.3 279.2 H894.0 V283.3 L892.4 284.9 H889.7 V280.8 Z"/>
<path class="l" d="M889.7 280.8 H892.4 V284.9 M892.4 280.8 L894.0 279.2"/>
<path class="wk" d="M946.6 239.7 H957.3 V259.8 L953.3 263.8 H942.6 V243.7 Z"/>
<path class="k" d="M942.6 243.7 H953.3 V263.8 M953.3 243.7 L957.3 239.7"/>
<path class="k" d="M942.5 242.0 H946.6 M957.3 242.0 H961.5"/>
<path class="k" d="M942.5 244.6 H946.6 M957.3 244.6 H961.5"/>
<path class="k" d="M942.5 247.1 H946.6 M957.3 247.1 H961.5"/>
<path class="k" d="M942.5 249.7 H946.6 M957.3 249.7 H961.5"/>
<path class="k" d="M942.5 252.2 H946.6 M957.3 252.2 H961.5"/>
<path class="k" d="M942.5 254.8 H946.6 M957.3 254.8 H961.5"/>
<path class="k" d="M942.5 257.3 H946.6 M957.3 257.3 H961.5"/>
<path class="wk" d="M982.2 235.7 H1005.2 V253.7 L1000.2 258.7 H977.2 V240.7 Z"/>
<path class="k" d="M977.2 240.7 H1000.2 V258.7 M1000.2 240.7 L1005.2 235.7"/>
<rect class="l" x="984.7" y="238.8" width="18.3" height="12.7" rx="1.2"/>
<path class="l" d="M992 236.5 l1.5 1.3 l1.5 -1.3 M992 253 l1.5 -1.3 l1.5 1.3"/>
<circle class="f" cx="986.3" cy="249.8" r="0.8"/>
<circle class="f" cx="916.5" cy="263.4" r="1.1"/>
<path class="wk" d="M924.5 261.9 H935.6 V268.1 L931.6 272.1 H920.5 V265.9 Z"/>
<path class="k" d="M920.5 265.9 H931.6 V272.1 M931.6 265.9 L935.6 261.9"/>
<path class="wk" d="M924.5 272.2 H935.6 V278.5 L931.6 282.5 H920.5 V276.2 Z"/>
<path class="k" d="M920.5 276.2 H931.6 V282.5 M931.6 276.2 L935.6 272.2"/>
<path class="w" d="M950.1 276.4 H963.9 V295.8 L960.9 298.8 H947.1 V279.4 Z"/>
<path class="l" d="M947.1 279.4 H960.9 V298.8 M960.9 279.4 L963.9 276.4"/>
<path class="k" d="M951 276.4 H963 M951 295.8 H963 M950.1 277.5 V295 M963.9 277.5 V295" stroke-dasharray="1.1 1"/>
<circle class="f" cx="961.5" cy="293.2" r="0.9"/>
<path class="wk" d="M859.7 308.6 H870.5 V330.1 L856.5 344.1 H845.7 V322.6 Z"/>
<path class="k" d="M845.7 322.6 H856.5 V344.1 M856.5 322.6 L870.5 308.6"/>
<path class="t" d="M859.7 310.3 H870.5 M859.7 328.4 H870.5"/>
<path class="wk" d="M875.4 308.6 H886.4 V330.1 L872.4 344.1 H861.4 V322.6 Z"/>
<path class="k" d="M861.4 322.6 H872.4 V344.1 M872.4 322.6 L886.4 308.6"/>
<path class="t" d="M875.4 310.3 H886.4 M875.4 328.4 H886.4"/>
<path class="wk" d="M891.3 308.6 H902.4 V330.1 L888.4 344.1 H877.3 V322.6 Z"/>
<path class="k" d="M877.3 322.6 H888.4 V344.1 M888.4 322.6 L902.4 308.6"/>
<path class="t" d="M891.3 310.3 H902.4 M891.3 328.4 H902.4"/>
<path class="l" d="M1044.5 90.1 H1154.6 V107.9 H1146.5 V104.5 L1141 103.2 H1058.5 L1053 104.5 V107.9 H1044.5 Z M1044.5 101.5 H1052 M1147 101.5 H1154.6 M1052 90.8 V107.9 M1147 90.8 V107.9"/>
<path class="l" d="M1052 93.5 H1049 V97.5 H1051 V101.5 M1147 93.5 H1150 V97.5 H1148 V101.5 M1058 103.8 Q1059 102.2 1061 102.2 H1066 Q1068 102.2 1069 103.5 M1130 103.5 Q1131 102.2 1133 102.2 H1138.5 Q1140.5 102.2 1141.5 103.8"/>
<rect x="1059" y="90.6" width="81.7" height="4.6" fill="#222"/>
<path d="M1059 92.9 H1140.7" stroke="#999" stroke-width="0.8" stroke-dasharray="1.4 1.2" fill="none"/>
<path d="M1060.5 108.4 H1139" stroke="#111" stroke-width="4.6" stroke-dasharray="1.25 1.35" fill="none"/>
<path class="w" d="M1111.7 119.2 H1120.7 V134.4 L1111.7 143.4 H1102.7 V128.2 Z"/>
<path class="l" d="M1102.7 128.2 H1111.7 V143.4 M1111.7 128.2 L1120.7 119.2"/>
<path class="w" d="M1131.0 119.2 H1137.7 V122.4 L1136.1 124.0 H1129.4 V120.8 Z"/>
<path class="l" d="M1129.4 120.8 H1136.1 V124.0 M1136.1 120.8 L1137.7 119.2"/>
<path class="w" d="M1143.8 122.0 H1148.6 V124.3 L1147.0 125.9 H1142.2 V123.6 Z"/>
<path class="l" d="M1142.2 123.6 H1147.0 V125.9 M1147.0 123.6 L1148.6 122.0"/>
<path class="w" d="M1135.5 127.2 H1149.7 V144.5 L1140.7 153.5 H1126.5 V136.2 Z"/>
<path class="l" d="M1126.5 136.2 H1140.7 V153.5 M1140.7 136.2 L1149.7 127.2"/>
<path class="w" d="M1153.9 138.2 H1156.4 V142.5 L1154.8 144.1 H1152.3 V139.8 Z"/>
<path class="l" d="M1152.3 139.8 H1154.8 V144.1 M1154.8 139.8 L1156.4 138.2"/>
<path class="w" d="M1155.3 144.4 H1159.7 V146.5 L1158.1 148.1 H1153.7 V146.0 Z"/>
<path class="l" d="M1153.7 146.0 H1158.1 V148.1 M1158.1 146.0 L1159.7 144.4"/>
<path class="w" d="M1133.1 148.0 H1139.8 V151.7 L1138.2 153.3 H1131.5 V149.6 Z"/>
<path class="l" d="M1131.5 149.6 H1138.2 V153.3 M1138.2 149.6 L1139.8 148.0"/>
<path class="w" d="M1144.5 148.0 H1151.8 V151.7 L1150.2 153.3 H1142.9 V149.6 Z"/>
<path class="l" d="M1142.9 149.6 H1150.2 V153.3 M1150.2 149.6 L1151.8 148.0"/>
<path class="w" d="M1135.2 154.2 H1140.4 V156.6 L1138.8 158.2 H1133.6 V155.8 Z"/>
<path class="l" d="M1133.6 155.8 H1138.8 V158.2 M1138.8 155.8 L1140.4 154.2"/>
<path class="w" d="M1144.2 154.2 H1149.0 V156.6 L1147.4 158.2 H1142.6 V155.8 Z"/>
<path class="l" d="M1142.6 155.8 H1147.4 V158.2 M1147.4 155.8 L1149.0 154.2"/>
<path class="w" d="M1147.4 164.2 H1152.1 V167.4 L1150.5 169.0 H1145.8 V165.8 Z"/>
<path class="l" d="M1145.8 165.8 H1150.5 V169.0 M1150.5 165.8 L1152.1 164.2"/>
<path class="w" d="M1074.3 136.5 H1077.6 V140.7 L1076.0 142.3 H1072.7 V138.1 Z"/>
<path class="l" d="M1072.7 138.1 H1076.0 V142.3 M1076.0 138.1 L1077.6 136.5"/>
<path class="w" d="M1078.2 136.5 H1081.5 V140.7 L1079.9 142.3 H1076.6 V138.1 Z"/>
<path class="l" d="M1076.6 138.1 H1079.9 V142.3 M1079.9 138.1 L1081.5 136.5"/>
<path class="w" d="M1107.8 161.1 H1111.7 V167.6 L1110.1 169.2 H1106.2 V162.7 Z"/>
<path class="l" d="M1106.2 162.7 H1110.1 V169.2 M1110.1 162.7 L1111.7 161.1"/>
<path class="w" d="M1118.2 159.3 H1125.2 V162.8 L1123.6 164.4 H1116.6 V160.9 Z"/>
<path class="l" d="M1116.6 160.9 H1123.6 V164.4 M1123.6 160.9 L1125.2 159.3"/>
<path class="w" d="M1118.2 166.5 H1125.2 V170.4 L1123.6 172.0 H1116.6 V168.1 Z"/>
<path class="l" d="M1116.6 168.1 H1123.6 V172.0 M1123.6 168.1 L1125.2 166.5"/>
<path class="w" d="M1065.3 172.8 H1067.6 V177.0 L1066.0 178.6 H1063.7 V174.4 Z"/>
<path class="l" d="M1063.7 174.4 H1066.0 V178.6 M1066.0 174.4 L1067.6 172.8"/>
<path class="w" d="M1069.9 172.8 H1072.2 V177.0 L1070.6 178.6 H1068.3 V174.4 Z"/>
<path class="l" d="M1068.3 174.4 H1070.6 V178.6 M1070.6 174.4 L1072.2 172.8"/>
<path class="w" d="M1078.4 172.8 H1080.8 V177.0 L1079.2 178.6 H1076.8 V174.4 Z"/>
<path class="l" d="M1076.8 174.4 H1079.2 V178.6 M1079.2 174.4 L1080.8 172.8"/>
<path class="w" d="M1084.4 172.8 H1086.7 V177.0 L1085.1 178.6 H1082.8 V174.4 Z"/>
<path class="l" d="M1082.8 174.4 H1085.1 V178.6 M1085.1 174.4 L1086.7 172.8"/>
<path class="w" d="M1058.4 175.5 H1062.5 V182.6 L1060.9 184.2 H1056.8 V177.1 Z"/>
<path class="l" d="M1056.8 177.1 H1060.9 V184.2 M1060.9 177.1 L1062.5 175.5"/>
<path class="w" d="M1066.0 185.6 H1072.6 V189.1 L1071.0 190.7 H1064.4 V187.2 Z"/>
<path class="l" d="M1064.4 187.2 H1071.0 V190.7 M1071.0 187.2 L1072.6 185.6"/>
<path class="w" d="M1105.4 176.2 H1132.7 V196.3 L1127.7 201.3 H1100.4 V181.2 Z"/>
<path class="l" d="M1100.4 181.2 H1127.7 V201.3 M1127.7 181.2 L1132.7 176.2"/>
<path class="w" d="M1136.3 172.2 H1143.5 V175.5 L1141.9 177.1 H1134.7 V173.8 Z"/>
<path class="l" d="M1134.7 173.8 H1141.9 V177.1 M1141.9 173.8 L1143.5 172.2"/>
<path class="w" d="M1141.0 179.4 H1144.6 V186.3 L1143.0 187.9 H1139.4 V181.0 Z"/>
<path class="l" d="M1139.4 181.0 H1143.0 V187.9 M1143.0 181.0 L1144.6 179.4"/>
<path class="w" d="M1136.3 191.9 H1142.5 V195.3 L1140.9 196.9 H1134.7 V193.5 Z"/>
<path class="l" d="M1134.7 193.5 H1140.9 V196.9 M1140.9 193.5 L1142.5 191.9"/>
<path class="w" d="M1137.3 200.2 H1152.8 V209.4 L1145.8 216.4 H1130.3 V207.2 Z"/>
<path class="l" d="M1130.3 207.2 H1145.8 V216.4 M1145.8 207.2 L1152.8 200.2"/>
<path class="w" d="M1098.2 227.7 H1105.0 V231.1 L1103.4 232.7 H1096.6 V229.3 Z"/>
<path class="l" d="M1096.6 229.3 H1103.4 V232.7 M1103.4 229.3 L1105.0 227.7"/>
<path class="w" d="M1117.2 232.5 H1132.7 V241.2 L1125.7 248.2 H1110.2 V239.5 Z"/>
<path class="l" d="M1110.2 239.5 H1125.7 V248.2 M1125.7 239.5 L1132.7 232.5"/>
<path class="w" d="M1144.2 233.2 H1160.1 V241.5 L1153.1 248.5 H1137.2 V240.2 Z"/>
<path class="l" d="M1137.2 240.2 H1153.1 V248.5 M1153.1 240.2 L1160.1 233.2"/>
<path class="w" d="M1098.2 251.5 H1106.8 V267.4 L1100.8 273.4 H1092.2 V257.5 Z"/>
<path class="l" d="M1092.2 257.5 H1100.8 V273.4 M1100.8 257.5 L1106.8 251.5"/>
<path class="w" d="M1050.5 265.3 H1053.3 V269.6 L1051.7 271.2 H1048.9 V266.9 Z"/>
<path class="l" d="M1048.9 266.9 H1051.7 V271.2 M1051.7 266.9 L1053.3 265.3"/>
<path class="w" d="M1054.2 276.8 H1069.7 V285.4 L1062.7 292.4 H1047.2 V283.8 Z"/>
<path class="l" d="M1047.2 283.8 H1062.7 V292.4 M1062.7 283.8 L1069.7 276.8"/>
<path class="w" d="M1108.2 276.5 H1114.7 V280.3 L1113.1 281.9 H1106.6 V278.1 Z"/>
<path class="l" d="M1106.6 278.1 H1113.1 V281.9 M1113.1 278.1 L1114.7 276.5"/>
<path class="w" d="M1107.5 283.5 H1114.7 V287.6 L1113.1 289.2 H1105.9 V285.1 Z"/>
<path class="l" d="M1105.9 285.1 H1113.1 V289.2 M1113.1 285.1 L1114.7 283.5"/>
<path class="w" d="M1113.0 325.3 H1117.6 V327.3 L1116.0 328.9 H1111.4 V326.9 Z"/>
<path class="l" d="M1111.4 326.9 H1116.0 V328.9 M1116.0 326.9 L1117.6 325.3"/>
<path class="w" d="M1133.1 327.3 H1137.7 V329.7 L1136.1 331.3 H1131.5 V328.9 Z"/>
<path class="l" d="M1131.5 328.9 H1136.1 V331.3 M1136.1 328.9 L1137.7 327.3"/>
<path class="w" d="M1140.3 327.3 H1144.9 V329.7 L1143.3 331.3 H1138.7 V328.9 Z"/>
<path class="l" d="M1138.7 328.9 H1143.3 V331.3 M1143.3 328.9 L1144.9 327.3"/>
<path class="w" d="M1133.1 332.2 H1137.7 V334.5 L1136.1 336.1 H1131.5 V333.8 Z"/>
<path class="l" d="M1131.5 333.8 H1136.1 V336.1 M1136.1 333.8 L1137.7 332.2"/>
<path class="w" d="M1140.3 332.2 H1144.9 V334.5 L1143.3 336.1 H1138.7 V333.8 Z"/>
<path class="l" d="M1138.7 333.8 H1143.3 V336.1 M1143.3 333.8 L1144.9 332.2"/>
<path class="w" d="M1148.3 328.7 H1155.5 V332.2 L1153.9 333.8 H1146.7 V330.3 Z"/>
<path class="l" d="M1146.7 330.3 H1153.9 V333.8 M1153.9 330.3 L1155.5 328.7"/>
<path class="w" d="M1159.7 328.7 H1166.7 V332.2 L1165.1 333.8 H1158.1 V330.3 Z"/>
<path class="l" d="M1158.1 330.3 H1165.1 V333.8 M1165.1 330.3 L1166.7 328.7"/>
<path class="wk" d="M1126.5 126.8 H1130.3 V133.5 L1128.7 135.1 H1124.9 V128.4 Z"/>
<path class="k" d="M1124.9 128.4 H1128.7 V135.1 M1128.7 128.4 L1130.3 126.8"/>
<path class="wk" d="M1063.2 150.3 H1083.7 V161.4 L1079.7 165.4 H1059.2 V154.3 Z"/>
<path class="k" d="M1059.2 154.3 H1079.7 V165.4 M1079.7 154.3 L1083.7 150.3"/>
<path class="k" d="M1066.3 150.3 V146.8 H1068.7 V150.3 M1066.3 161.4 V165.3 H1068.7 V161.4"/>
<path class="k" d="M1070.8 150.3 V146.8 H1073.2 V150.3 M1070.8 161.4 V165.3 H1073.2 V161.4"/>
<path class="k" d="M1075.4 150.3 V146.8 H1077.8000000000002 V150.3 M1075.4 161.4 V165.3 H1077.8000000000002 V161.4"/>
<path class="k" d="M1079.9 150.3 V146.8 H1082.3000000000002 V150.3 M1079.9 161.4 V165.3 H1082.3000000000002 V161.4"/>
<path class="wk" d="M1087.9 151.7 H1101.7 V158.2 L1098.7 161.2 H1084.9 V154.7 Z"/>
<path class="k" d="M1084.9 154.7 H1098.7 V161.2 M1098.7 154.7 L1101.7 151.7"/>
<path d="M1089.4 152.0 H1100.2 M1089.4 157.89999999999998 H1100.2" stroke="#111" stroke-width="2.2" stroke-dasharray="2 1.4" fill="none"/>
<path class="wk" d="M1076.1 204.8 H1089.9 V211.3 L1086.9 214.3 H1073.1 V207.8 Z"/>
<path class="k" d="M1073.1 207.8 H1086.9 V214.3 M1086.9 207.8 L1089.9 204.8"/>
<path d="M1077.6 205.10000000000002 H1088.4 M1077.6 211.0 H1088.4" stroke="#111" stroke-width="2.2" stroke-dasharray="2 1.4" fill="none"/>
<path class="wk" d="M1034.6 301.7 H1048.4 V308.2 L1045.4 311.2 H1031.6 V304.7 Z"/>
<path class="k" d="M1031.6 304.7 H1045.4 V311.2 M1045.4 304.7 L1048.4 301.7"/>
<path d="M1036.1 302.0 H1046.9 M1036.1 307.9 H1046.9" stroke="#111" stroke-width="2.2" stroke-dasharray="2 1.4" fill="none"/>
<path class="wk" d="M1098.5 204.8 H1119.6 V214.9 L1114.6 219.9 H1093.5 V209.8 Z"/>
<path class="k" d="M1093.5 209.8 H1114.6 V219.9 M1114.6 209.8 L1119.6 204.8"/>
<path class="t" d="M1100.3 204.8 V214.9 M1117.8 204.8 V214.9"/>
<path class="wk" d="M1081.2 221.2 H1087.7 V227.0 L1086.1 228.6 H1079.6 V222.8 Z"/>
<path class="k" d="M1079.6 222.8 H1086.1 V228.6 M1086.1 222.8 L1087.7 221.2"/>
<path class="f" d="M1085.5 226.5 h1.8 v-1.8 z"/>
<path class="wk" d="M1099.2 235.3 H1104.7 V242.5 L1103.1 244.1 H1097.6 V236.9 Z"/>
<path class="k" d="M1097.6 236.9 H1103.1 V244.1 M1103.1 236.9 L1104.7 235.3"/>
<path class="w" d="M1061.6 235.3 H1088.8 V268.9 L1084.8 272.9 H1057.6 V239.3 Z"/>
<path class="l" d="M1057.6 239.3 H1084.8 V272.9 M1084.8 239.3 L1088.8 235.3"/>
<circle class="l" cx="1066.0" cy="240.1" r="1.7"/>
<path class="k" d="M1067 268.9 H1083"/>
<path class="wk" d="M1115.1 247.8 H1136.3 V268.8 L1127.3 277.8 H1106.1 V256.8 Z"/>
<path class="k" d="M1106.1 256.8 H1127.3 V277.8 M1127.3 256.8 L1136.3 247.8"/>
<circle class="k" cx="1118.6" cy="251.6" r="1.5"/>
<circle class="k" cx="1132.4" cy="251.6" r="1.5"/>
<circle class="k" cx="1125.5" cy="265.1" r="1.5"/>
<path class="wk" d="M1140.3 247.8 H1161.5 V268.8 L1152.5 277.8 H1131.3 V256.8 Z"/>
<path class="k" d="M1131.3 256.8 H1152.5 V277.8 M1152.5 256.8 L1161.5 247.8"/>
<circle class="k" cx="1143.9" cy="251.6" r="1.5"/>
<circle class="k" cx="1157.6" cy="251.6" r="1.5"/>
<circle class="k" cx="1150.8" cy="265.1" r="1.5"/>
<path class="wk" d="M1096.4 296.6 H1117.6 V317.9 L1108.6 326.9 H1087.4 V305.6 Z"/>
<path class="k" d="M1087.4 305.6 H1108.6 V326.9 M1108.6 305.6 L1117.6 296.6"/>
<circle class="k" cx="1100.2" cy="300.3" r="1.5"/>
<circle class="k" cx="1113.7" cy="307.0" r="1.5"/>
<circle class="k" cx="1100.2" cy="313.9" r="1.5"/>
<path class="wk" d="M1020.5 240.1 H1045.2 V251.2 L1041.2 255.2 H1016.5 V244.1 Z"/>
<path class="k" d="M1016.5 244.1 H1041.2 V255.2 M1041.2 244.1 L1045.2 240.1"/>
<path class="k" d="M1039.8 240.1 V236 H1043 V240.1 M1023 240.1 V236 H1026.3 V240.1 M1023 251.2 V255.3 H1026.3 V251.2 M1031.2 251.2 V255.3 H1034.5 V251.2 M1039.8 251.2 V255.3 H1043 V251.2"/>
<path class="wk" d="M1080.5 276.1 H1095.5 V288.6 L1089.5 294.6 H1074.5 V282.1 Z"/>
<path class="k" d="M1074.5 282.1 H1089.5 V294.6 M1089.5 282.1 L1095.5 276.1"/>
<rect x="1080.5" y="276.1" width="2.8" height="12.5" fill="#444"/>
<path class="l" d="M1093 276.1 V288.6"/>
<path class="w" d="M1122.5 280.3 H1162.9 V320.1 L1158.9 324.1 H1118.5 V284.3 Z"/>
<path class="l" d="M1118.5 284.3 H1158.9 V324.1 M1158.9 284.3 L1162.9 280.3"/>
<path class="k" d="M1124 280.3 H1161.5 M1124 320.1 H1161.5 M1122.5 282 V318.5 M1162.9 282 V318.5" stroke-dasharray="1.3 1.1"/>
<circle class="k" cx="1155.5" cy="287.2" r="2.3"/>
</g>
<!-- 50_v5.svg -->
<g id="v5">
<rect class="l" x="838.6" y="597.4" width="335.0" height="9.4" rx="0"/>
<path class="l" d="M860 597.4 V584.6 Q860 583.6 861 583.6 H869.6 Q870.6 583.6 870.6 584.6 V597.4"/>
<path class="l" d="M875.4 597.4 V584.6 Q875.4 583.6 876.4 583.6 H885.8 Q886.8 583.6 886.8 584.6 V597.4"/>
<path class="l" d="M891.4 597.4 V584.6 Q891.4 583.6 892.4 583.6 H901.5 Q902.5 583.6 902.5 584.6 V597.4"/>
<path class="l" d="M843.3 597.4 V590.2 H859.5 M846.2 590.2 V597.4 M854.5 590.2 V597.4 M858 590.2 V597.4 M870.6 591.5 H873.5 V597.4 M886.8 594 H889.5 V597.4"/>
<path class="k" d="M902.5 594.6 H924.3 M903 596 H924" stroke-dasharray="3 1.5"/>
<path class="l" d="M924.3 597.4 V589.9 H935.9 V597.4 M925.5 591.8 H934.7 M935.9 594.5 H938.5 V597.4"/>
<circle class="k" cx="930.2" cy="594.3" r="1.4"/>
<path class="l" d="M941 597.4 V594.5 H944 M944 597.4 V590.8 H946.5 V589.5 H957 V591 L959 592.3 H978.3 V597.4 M946.5 590.8 H957 M947.5 597.4 V592.5"/>
<path class="k" d="M964 594 H980 M964.5 596 H980" stroke-dasharray="2.2 1.2"/>
<path class="l" d="M982.3 597.4 V592.5 Q982.3 590.2 984.6 590.2 H1003 Q1005.3 590.2 1005.3 592.5 V597.4 M993.5 590.2 V593"/>
<path class="k" d="M984 595.5 H1004 M1008 595.5 H1024" stroke-dasharray="2.5 1.5"/>
<path class="l" d="M1024.7 597.4 V588.3 H1044.9 V597.4 M1026 590 H1044 M1027.5 590 V597.4 M1031 590 V597.4 M1034.6 590 V597.4 M1038 590 V597.4 M1041.5 590 V597.4 M1044.9 591 H1053.5 V597.4 M1010 593.5 H1024.7"/>
<path class="k" d="M1026 593.8 H1044" stroke-dasharray="2 1.4"/>
<path class="l" d="M1054.7 597.4 V588.6 H1069.4 V597.4 M1069.4 590 H1080.2 M1069.4 591.8 H1080.2 M1071 595.8 H1079"/>
<path class="l" d="M1080.2 597.4 V585.1 H1096 V597.4 M1082.7 585.1 V597.4 M1094 585.1 V597.4"/>
<path class="k" d="M1081.2 585.1 V597.4"/>
<path class="l" d="M1097.4 597.4 V586.3 H1117.6 V597.4 M1098.4 586.3 V583.6 H1119.5 V586.3 H1117.6 M1103 596.3 H1111 M1113.5 594.5 H1117 V597.4"/>
<path class="k" d="M1103 596.5 H1111"/>
<path class="l" d="M1119.5 586.6 H1135.5 V591.7 M1122.5 597.4 V591.7 H1162.7 V597.4 M1137.7 591.7 V588 Q1137.7 586.6 1139 586.6 H1160.5 Q1161.8 586.6 1161.8 588 V591.7 M1140.5 588.2 H1161 M1134 594.5 H1137 V597.4 M1140.5 594.5 H1144 V597.4"/>
<path class="k" d="M1125 595.6 H1132 M1146 595.6 H1166" stroke-dasharray="3 1.6"/>
<path class="t" d="M1034.6 597.4 V607.9 M1037.5 597.4 V607.9 M1040 597.4 V607.9 M1043.3 597.4 V607.9 M1047 597.4 V607.9 M1050.3 597.4 V607.9"/>
<path class="l" d="M836.7 606.9 V630.7 H900 Q902.7 630.7 902.7 628 V613.5 M836.7 630.7 V606.9"/>
<path class="k" d="M837.3 608 V630" stroke-dasharray="1.6 0.9"/>
<path class="l" d="M854.5 608.5 V619.5 Q854.5 621.3 856.3 621.3 Q857.8 621.3 857.8 619.5 V608.5 M850 606.9 V609 H851.8 V606.9 M859.5 607.5 V619 H861.5 L863 620.3 H868.5 L870 619 V607.5 M877.5 607.5 V620.5 H883 V630.5 M884.8 630.5 V620.5 H898 V607.5 M889.5 620.5 V625.5 Q889.5 627.5 891.5 627.5 H902.7 M892.5 620.5 Q892.5 623 895 623 H897 Q899 623 899 620.5"/>
<path class="l" d="M899 607 V613.5 H902.7 M904.5 607 V616.5 H906.5 V607 M907.8 607 V611 M900.5 607 V612"/>
<path class="l" d="M910.5 646.2 V609 Q916.65 607 922.8 609 V646.2 M910.5 645 Q916.65 647 922.8 645"/>
<path class="l" d="M923.8 646.2 V609 Q930.0999999999999 607 936.4 609 V646.2 M923.8 645 Q930.0999999999999 647 936.4 645"/>
<path class="l" d="M1065 646.2 V609 Q1071.3 607 1077.6 609 V646.2 M1065 645 Q1071.3 647 1077.6 645"/>
<path class="l" d="M1077.8 646.2 V609 Q1084.15 607 1090.5 609 V646.2 M1077.8 645 Q1084.15 647 1090.5 645"/>
<path class="l" d="M937 607.9 V626.1 H996 V616 H991.5 V624.1 H937 M994 624.1 H996 M994 624.1 V626.1"/>
<path class="l" d="M939.5 610.5 V624.1"/>
<path class="l" d="M941.5 610.5 V624.1"/>
<path class="k" d="M946 610.5 V624.1"/>
<path class="k" d="M948 610.5 V624.1"/>
<path class="l" d="M952.5 610.5 V624.1"/>
<path class="l" d="M954.5 610.5 V624.1"/>
<path class="l" d="M959 610.5 V624.1"/>
<path class="l" d="M961 610.5 V624.1"/>
<path class="l" d="M965.5 610.5 V624.1"/>
<path class="l" d="M967.5 610.5 V624.1"/>
<path class="l" d="M972.5 610.5 V624.1"/>
<path class="l" d="M974.5 610.5 V624.1"/>
<path class="l" d="M979 610.5 V624.1"/>
<path class="l" d="M981 610.5 V624.1"/>
<path class="l" d="M985.5 610.5 V624.1"/>
<path class="l" d="M987.5 610.5 V624.1"/>
<path class="l" d="M937 610.5 H951 M965 610.5 H971 M951 607.9 V617 H965 V607.9 M954.5 608.5 V614.5 H961.5 V608.5 M937.5 608.5 H949.5 M966.5 608.5 H972"/>
<path class="l" d="M971 613 H1006.8 M976 608.3 H1020"/>
<path class="k" d="M978 607.9 H1022" stroke-dasharray="1.5 1"/>
<path class="l" d="M1006.8 613.3 V646.2 M1013.7 613.3 V646.2 M1028.2 613.3 V646.2 M1036.5 608 V646.2 M996 613.3 H1030.8 V608"/>
<path class="f" d="M1031.5 607.5 H1034.5 V610.5 H1031.5 Z"/>
<path class="l" d="M1055.5 608.4 V637.4 H1064.5 M1055.5 614.5 H1059 M1061.5 608.4 V613.5 H1064.5 M1056 608.4 H1061.5"/>
<path class="l" d="M1091 607.9 V637.4 H1135.7 V607.9 M1095.5 607.9 V627.6 H1124 V607.9 M1099.4 607.9 V615.6 H1115.9 V607.9 M1091.5 608 H1095 V613.5 H1091.5 M1124 613 H1135.7 M1126 608.5 L1130 612.5 H1135"/>
<path class="l" d="M1136.2 607.9 V620.2 H1146.5 V617.2 M1140.6 607.9 V617.2 H1155.4 V607.9 M1149 618.5 H1154"/>
<rect class="k" x="1156.4" y="607.9" width="11.3" height="10.3" rx="0"/>
<path class="k" d="M1111 608 H1121 M1130.5 608 H1139 M1142.5 608.6 H1153"/>
<path class="l" d="M888 646.2 H1164.2 V656.5 H1098.9 M953.8 656.5 H888 V646.2 M947.4 646.2 V656.5 M1104.6 646.2 V656.5 M1149 646.2 V656.5"/>
<path class="w" d="M953.8 646.2 V672.5 Q953.8 679.2 947 679.2 H934 Q927.4 679.2 927.4 685.8 V782.5 Q927.4 786 931 786.5 Q934 787 936.5 787.3 A23.2 23.2 0 0 1 936.5 833.7 Q934 834 931 834.5 Q927.4 835 927.4 838.5 V884.5 Q927.4 902.4 945.4 902.4 H1106.6 Q1124.6 902.4 1124.6 884.5 V838.5 Q1124.6 834.5 1121 834 L1116 833.2 A22.3 22.3 0 0 1 1116 787.4 L1121 786.6 Q1124.6 786 1124.6 782.5 V685.8 Q1124.6 679.2 1118 679.2 H1105.5 Q1098.9 679.2 1098.9 672.5 V646.2"/>
<circle class="l" cx="973.2" cy="727.9" r="12.4"/>
<circle class="l" cx="973.2" cy="727.9" r="7.2"/>
<circle class="l" cx="973.2" cy="784.2" r="12.4"/>
<circle class="l" cx="973.2" cy="784.2" r="7.2"/>
<circle class="l" cx="1078.2" cy="784.2" r="12.4"/>
<circle class="l" cx="1078.2" cy="784.2" r="7.2"/>
<circle class="l" cx="1117.9" cy="810.4" r="17.7"/>
<path class="l" d="M1117.3 792.8 V828 M1122.9 793.5 V827.3"/>
<path class="k" d="M1103.5 800 Q1098.5 810.4 1103.5 821"/>
<circle class="l" cx="950.4" cy="757.9" r="12.4"/>
<circle class="l" cx="950.4" cy="757.9" r="7"/>
<circle class="t" cx="950.4" cy="757.9" r="5.6"/>
<path class="l" d="M944.8 757.9 H956 M950.4 750.9 V764.9"/>
<path class="t" d="M933.4 757.9 H936.4 M964.4 757.9 H967.4 M950.4 740.9 V743.9 M950.4 771.9 V774.9"/>
<circle class="k" cx="1101.4" cy="757.9" r="12.4"/>
<path class="k" d="M1108.9 760.6 L1102.8 765.8 L1095.3 763.0 L1093.9 755.2 L1100.0 750.0 L1107.5 752.8 Z"/>
<path class="t" d="M1080.4 757.9 H1085.9 M1116.9 757.9 H1122.4 M1101.4 736.9 V742.4 M1101.4 773.4 V778.9"/>
<circle class="k" cx="950.4" cy="863.0" r="12.4"/>
<path class="k" d="M958.4 863.0 L954.4 869.9 L946.4 869.9 L942.4 863.0 L946.4 856.1 L954.4 856.1 Z"/>
<path class="t" d="M929.4 863 H934.9 M965.9 863 H971.4 M950.4 842 V847.5 M950.4 878.5 V884"/>
<circle class="k" cx="1101.4" cy="863.2" r="12.4"/>
<path class="k" d="M1108.9 865.9 L1102.8 871.1 L1095.3 868.3 L1093.9 860.5 L1100.0 855.3 L1107.5 858.1 Z"/>
<path class="t" d="M1080.4 863.2 H1085.9 M1116.9 863.2 H1122.4 M1101.4 842.2 V847.7 M1101.4 878.7 V884.2"/>
<path class="t" d="M943 863 H958 M1094 757.9 H1109 M1094 863.2 H1109"/>
<circle class="l" cx="893.9" cy="863.0" r="5.4"/>
<path class="l" d="M886 863 H902 M893.9 855 V871"/>
<path class="t" d="M878 863 H880 M908 863 H910 M893.9 847 V849"/>
<path class="l" d="M844.8 669.05 H1183.5 Q1189.6 669.05 1189.6 675 V948.3 M838.6 910 V675 Q838.6 669.05 844.8 669.05 M849.5 669.05 V673.35"/>
<path class="l" d="M905.9 673.35 H847.5 Q842.3 673.35 842.3 678.5 V742.4 M838.6 742.4 H842.3 M844.4 742.4 V912"/>
<path class="k" d="M843.4 742.4 V912"/>
<path class="l" d="M1129.8 673.35 H1180.5 Q1185.6 673.35 1185.6 678.5 V868 M1179.8 669.05 V673.35"/>
<path class="t" d="M1190.8 672 V948.3 M1192.5 672 V950"/>
<path class="l" d="M905.9 669.05 V712.2 M904.5 712.2 H926.8 M904.5 693 V712.2 M905.9 695 Q906.5 710 912 710.5 H920"/>
<path class="l" d="M918.5 710.5 Q919 704.5 922.5 704.5 Q926 704.5 926 708.5 V712.2 M924.5 706 V711.5"/>
<path class="l" d="M868.8 686.9 H905.9 M868.8 686.9 V691.3 H905.9 M872.2 692.5 H904.5 M878.6 686.9 L880 683.2 H895.8 L897.2 686.9 M882.1 673.35 V683.2 M885.6 673.35 V683.2 M891.4 673.35 V683.2"/>
<path class="l" d="M883.3 692.5 Q886.5 693.5 886.8 698.3 H890.8 Q891 693.5 894 692.5 M881.5 700.8 Q884 699.4 886.5 699.6 M891 699.6 Q893.5 699.4 896 700.8"/>
<path class="l" d="M854.8 725 V692 Q854.8 685.5 861.5 685.5 H868.8 M872.2 692.5 V701.8 L856 725 M859.5 720 V705.3 H865.9 V711"/>
<path class="l" d="M856 725 V745.3 M857.4 725 V745.3 M845.3 745.3 V731.4 H854.8 V745.3 M843 745.3 H857.4"/>
<path class="l" d="M1129.8 669.05 V693.7 M1124.6 712.2 H1131 V693.7 M1125 711 Q1130 708 1130 703"/>
<path class="l" d="M1129.8 686.9 H1176.9 V691.3 H1129.8 M1137.4 686.9 L1138.5 683.2 H1166 L1167 686.9 M1157.7 673.35 V683.2 M1131 693.7 H1179.8 V712.2 M1176.9 691.3 V693.7"/>
<path class="l" d="M1141.3 692.5 Q1144.5 693.5 1145 699.4 H1150.7 Q1151 693.5 1153.7 692.5 M1140.5 701 Q1143 699.6 1145.5 699.8 M1150 699.8 Q1152.5 699.6 1155 701"/>
<path class="l" d="M1157.7 693.7 V701.8 L1185 741.3 M1164.7 712.2 V702.5 H1157.7 M1164.7 712.2 H1185.6 M1159 693.7 V697 H1164.7 M1164.7 693.7 V702.5 M1164.7 697 H1179.8"/>
<path class="t" d="M1185 757.5 H1189.6 M1185.6 792.5 H1189.6 V799.5 H1185.6 M1186.8 757.5 V868"/>
<path class="l" d="M1185.6 868 Q1185.6 872 1181.5 872.5 Q1177.4 873 1177.4 877 V889.3 L1160.5 912"/>
<rect class="l" x="1204.3" y="705.5" width="32.5" height="210.0" rx="0"/>
<path class="l" d="M1192.5 712.5 H1204.3 M1192.5 908.7 H1204.3"/>
<rect class="l" x="826.4" y="869.4" width="12.2" height="13.3" rx="0"/>
<path class="l" d="M845.3 876.1 H857.4 V889.7 H845.3 Z M856 876.1 V895 L857.4 898 L871.7 918.5 V951 M860 904.3 V914.8 H865.3 M838.6 910 Q838.8 913 842 914.5 Q847.5 917.5 847.8 922 V940 Q848 951 857.7 951"/>
<path class="l" d="M844.4 912 Q851 915.5 851 921 V937 Q851.5 948.5 857.5 948.5 H871.7 M857.4 951 V948.5"/>
<path class="l" d="M849.7 919.5 H853 V945 M853.7 926.5 H864 Q867.5 928.5 867.5 932 Q867.5 935.5 864 937.5 H853.7 Z M864 926.5 V937.5 M853.7 945 H871.7"/>
<path class="t" d="M840.5 923 Q840.5 921.5 842 921.5 H844 V945 H842 Q840.5 943.5 840.5 942 Z M844 924 H846.5 V943 H844"/>
<path class="t" d="M1160.5 912 V948.3 M1163.5 908 Q1166 912 1166 918 M1164.5 920 H1160.5 M1168 920 V948.3 M1172 912 Q1175 916 1175 926 M1176 915 V926"/>
<path class="l" d="M1160.5 920 H1168 M1185.6 868 V945 Q1185.6 948.3 1182.5 948.3 H1176.5 V951"/>
<path class="l" d="M857.7 951 H1189.6"/>
</g>
<!-- 80_dims.svg -->
<g id="dims">
<path class="d" d="M703 57.7 L883.3 57.7"/>
<path class="d" d="M703 355.9 L919 355.9"/>
<path class="d" d="M710.6 57.7 L710.6 355.9"/>
<path class="f" d="M710.6 57.7 L713.7 74.2 L707.5 74.2 Z"/>
<path class="f" d="M710.6 355.9 L707.5 339.4 L713.7 339.4 Z"/>
<text x="708.4" y="207" font-size="24.5" text-anchor="middle" textLength="41.5" lengthAdjust="spacingAndGlyphs" transform="rotate(-90 708.4 207)" stroke="#fff" stroke-width="0.3">45.5</text>
<path class="d" d="M826.8 252.3 L826.8 485.4"/>
<path class="d" d="M1236.8 314.2 L1236.8 485.4"/>
<path class="d" d="M826.8 477.2 L1236.8 477.2"/>
<path class="f" d="M826.8 477.2 L843.3 474.1 L843.3 480.3 Z"/>
<path class="f" d="M1236.8 477.2 L1220.3 480.3 L1220.3 474.1 Z"/>
<text x="1031.7" y="474" font-size="23" text-anchor="middle" textLength="40.2" lengthAdjust="spacingAndGlyphs" transform="rotate(0.02 1031.7 474)" stroke="#fff" stroke-width="0.3">62.4</text>
<path class="d" d="M1455.6 338.7 L1455.6 485.4"/>
<path class="d" d="M1823 319.2 L1823 485.4"/>
<path class="d" d="M1455.6 477.2 L1823 477.2"/>
<path class="f" d="M1455.6 477.2 L1472.1 474.1 L1472.1 480.3 Z"/>
<path class="f" d="M1823 477.2 L1806.5 480.3 L1806.5 474.1 Z"/>
<text x="1639" y="474" font-size="23" text-anchor="middle" textLength="40.6" lengthAdjust="spacingAndGlyphs" transform="rotate(0.02 1639 474)" stroke="#fff" stroke-width="0.3">56.0</text>
<path class="d" d="M838.7 917.7 L838.7 1025.7"/>
<path d="M893.85 869 V1025.7" stroke="#111" stroke-width="1.7" fill="none"/>
<path class="d" d="M893.8 1025.7 L893.8 1073.7"/>
<path d="M950.4 875.5 V1025.7 M1101.4 875.6 V1073.7" stroke="#111" stroke-width="1.2" fill="none"/>
<path class="d" d="M838.7 1017.6 L950.3 1017.6"/>
<path class="f" d="M838.7 1017.6 L855.2 1014.5 L855.2 1020.7 Z"/>
<path class="f" d="M893.2 1017.6 L876.7 1020.7 L876.7 1014.5 Z"/>
<path class="f" d="M894.6 1017.6 L911.1 1014.5 L911.1 1020.7 Z"/>
<path class="f" d="M950.3 1017.6 L933.8 1020.7 L933.8 1014.5 Z"/>
<text x="866" y="1013.3" font-size="22" text-anchor="middle" textLength="26.5" lengthAdjust="spacingAndGlyphs" transform="rotate(0.02 866 1013.3)" stroke="#fff" stroke-width="0.3">8.4</text>
<text x="922" y="1013.3" font-size="22" text-anchor="middle" textLength="26.6" lengthAdjust="spacingAndGlyphs" transform="rotate(0.02 922 1013.3)" stroke="#fff" stroke-width="0.3">8.6</text>
<path class="d" d="M893.8 1065.4 L1101.4 1065.4"/>
<path class="f" d="M893.8 1065.4 L910.3 1062.3 L910.3 1068.5 Z"/>
<path class="f" d="M1101.4 1065.4 L1084.9 1068.5 L1084.9 1062.3 Z"/>
<text x="997.8" y="1061.3" font-size="22" text-anchor="middle" textLength="35.2" lengthAdjust="spacingAndGlyphs" transform="rotate(0.02 997.8 1061.3)" stroke="#fff" stroke-width="0.3">3I.6</text>
<path d="M1116.5 758.1 H1318 M1116.5 863.2 H1318" stroke="#111" stroke-width="1.2" fill="none"/>
<path class="d" d="M1190.8 951.4 L1318 951.4"/>
<path class="d" d="M1309.8 758.1 L1309.8 951.4"/>
<path class="f" d="M1309.8 758.1 L1312.9 774.6 L1306.7 774.6 Z"/>
<path class="f" d="M1309.8 862.6 L1306.7 846.1 L1312.9 846.1 Z"/>
<path class="f" d="M1309.8 863.8 L1312.9 880.3 L1306.7 880.3 Z"/>
<path class="f" d="M1309.8 951.4 L1306.7 934.9 L1312.9 934.9 Z"/>
<text x="1305.5" y="809.6" font-size="22" text-anchor="middle" textLength="33.2" lengthAdjust="spacingAndGlyphs" transform="rotate(-90 1305.5 809.6)" stroke="#fff" stroke-width="0.3">I6.0</text>
<text x="1305.5" y="906.8" font-size="22" text-anchor="middle" textLength="32.6" lengthAdjust="spacingAndGlyphs" transform="rotate(-90 1305.5 906.8)" stroke="#fff" stroke-width="0.3">I3.5</text>
<path class="d" d="M759.3 787.3 H807.7 L889 857.8"/>
<path class="f" d="M891.6 860 L876.6 851.4 L880.7 846.6 Z"/>
<text x="672.5" y="794.8" font-size="22" text-anchor="start" textLength="80.4" lengthAdjust="spacingAndGlyphs" transform="rotate(0.02 672.5 794.8)" stroke="#fff" stroke-width="0.3">M2 Thru’</text>
<text x="673.3" y="818.7" font-size="22" text-anchor="start" textLength="77.6" lengthAdjust="spacingAndGlyphs" transform="rotate(0.02 673.3 818.7)" stroke="#fff" stroke-width="0.3">5 Posns</text>
</g>
<!-- 90_text.svg -->
<g id="note">
<text transform="rotate(0.01 1528 837)" x="1528.6" y="837.5" font-size="22" textLength="343" lengthAdjust="spacingAndGlyphs" fill="#000">30-way micro-coax - Camera to</text>
<text transform="rotate(0.01 1529 865)" x="1529" y="865.7" font-size="22" textLength="368.6" lengthAdjust="spacingAndGlyphs" fill="#000">Interface Board cable - not shown</text>
</g>

</svg>
</body></html>
